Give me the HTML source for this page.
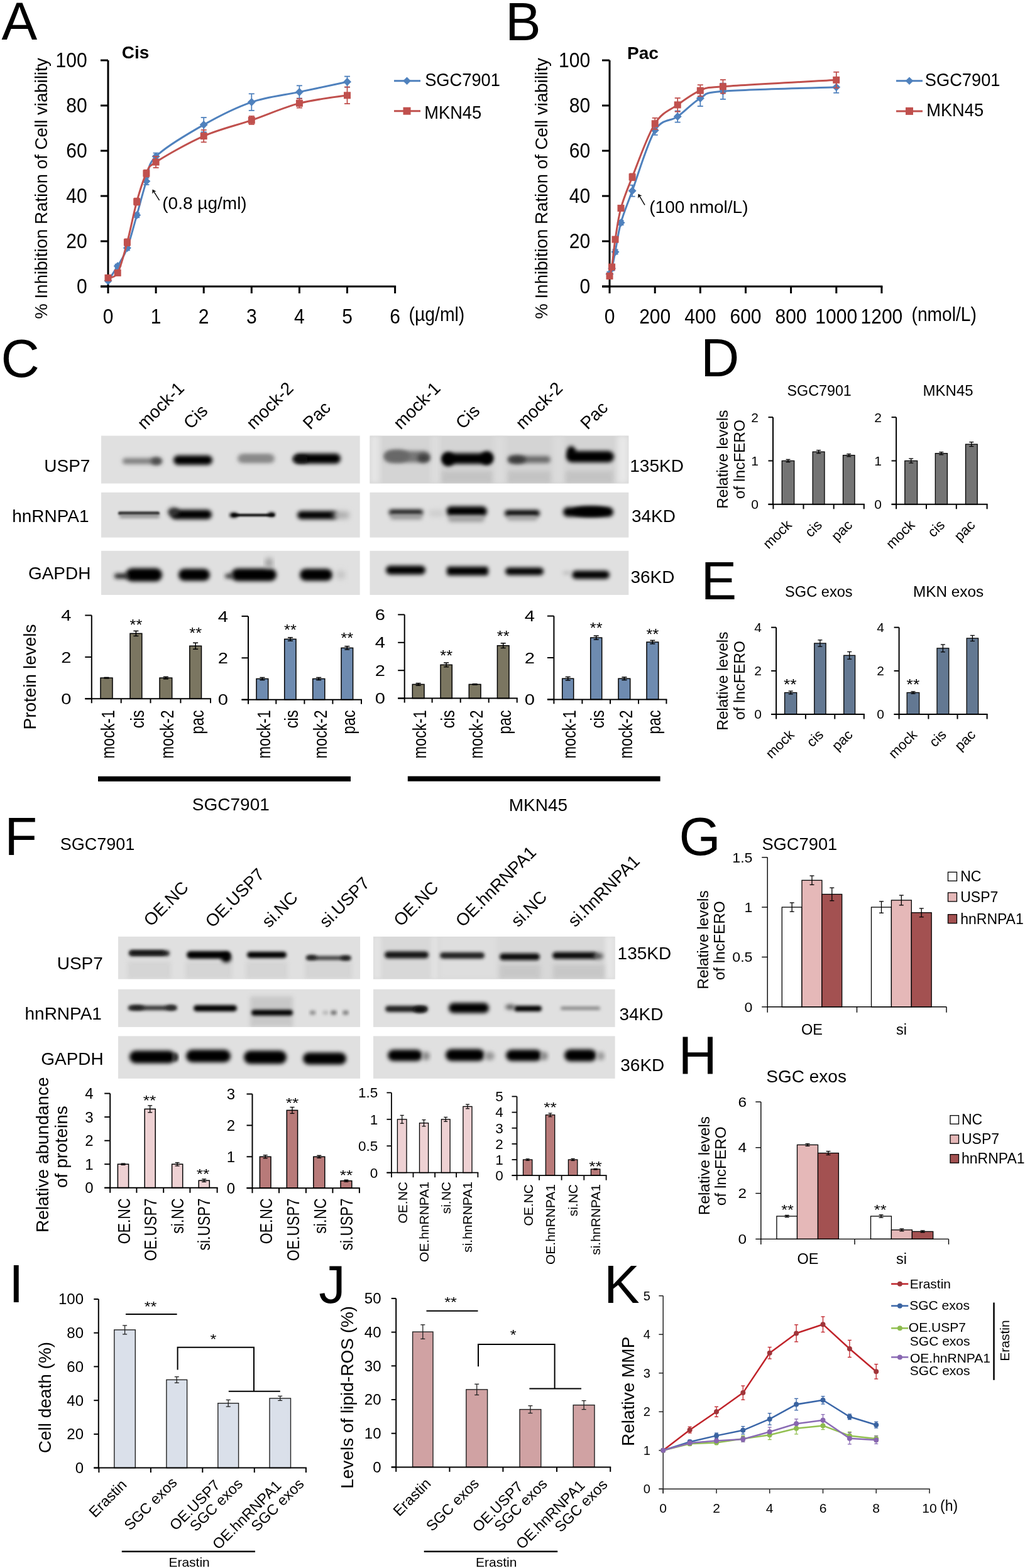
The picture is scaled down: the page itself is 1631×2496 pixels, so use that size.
<!DOCTYPE html>
<html><head><meta charset="utf-8"><title>Figure</title>
<style>
html,body{margin:0;padding:0;background:#fff;}
svg{display:block;}
text{font-family:"Liberation Sans",Arial,sans-serif;fill:#000;}
</style></head><body>
<svg width="1631" height="2496" viewBox="0 0 1631 2496">
<defs>
<filter id="b1" x="-20%" y="-60%" width="140%" height="220%"><feGaussianBlur stdDeviation="1.5"/></filter>
<filter id="b2" x="-20%" y="-80%" width="140%" height="260%"><feGaussianBlur stdDeviation="2.5"/></filter>
<filter id="b3" x="-30%" y="-100%" width="160%" height="300%"><feGaussianBlur stdDeviation="3.2"/></filter>
<filter id="b4" x="-30%" y="-100%" width="160%" height="300%"><feGaussianBlur stdDeviation="4.5"/></filter>
<filter id="b6" x="-30%" y="-100%" width="160%" height="300%"><feGaussianBlur stdDeviation="7"/></filter>
<clipPath id="cl1"><rect x="588.5" y="693.6" width="411.8" height="76"/></clipPath>
<clipPath id="cl2"><rect x="188" y="1490.9" width="385.1" height="67.7"/></clipPath>
<clipPath id="cl3"><rect x="188" y="1574.8" width="385.1" height="60.1"/></clipPath>
<clipPath id="cl4"><rect x="594" y="1490.9" width="384.6" height="67.7"/></clipPath>
</defs>
<rect width="1631" height="2496" fill="#fff"/>
<text x="2.6" y="62.5" font-size="85">A</text>
<text x="803.9" y="64.1" font-size="85">B</text>
<line x1="172.0" y1="96.0" x2="172.0" y2="456.0" stroke="#000" stroke-width="3"/>
<line x1="160.0" y1="456.0" x2="172.0" y2="456.0" stroke="#000" stroke-width="3"/>
<text transform="translate(138.7 466.6) scale(0.925 1)" font-size="32.5" text-anchor="end">0</text>
<line x1="160.0" y1="384.0" x2="172.0" y2="384.0" stroke="#000" stroke-width="3"/>
<text transform="translate(138.7 394.6) scale(0.925 1)" font-size="32.5" text-anchor="end">20</text>
<line x1="160.0" y1="312.0" x2="172.0" y2="312.0" stroke="#000" stroke-width="3"/>
<text transform="translate(138.7 322.6) scale(0.925 1)" font-size="32.5" text-anchor="end">40</text>
<line x1="160.0" y1="240.0" x2="172.0" y2="240.0" stroke="#000" stroke-width="3"/>
<text transform="translate(138.7 250.6) scale(0.925 1)" font-size="32.5" text-anchor="end">60</text>
<line x1="160.0" y1="168.0" x2="172.0" y2="168.0" stroke="#000" stroke-width="3"/>
<text transform="translate(138.7 178.6) scale(0.925 1)" font-size="32.5" text-anchor="end">80</text>
<line x1="160.0" y1="96.0" x2="172.0" y2="96.0" stroke="#000" stroke-width="3"/>
<text transform="translate(138.7 106.6) scale(0.925 1)" font-size="32.5" text-anchor="end">100</text>
<line x1="160.0" y1="456.0" x2="630.1" y2="456.0" stroke="#000" stroke-width="3"/>
<line x1="172.0" y1="456.0" x2="172.0" y2="467.0" stroke="#000" stroke-width="3"/>
<text transform="translate(172.0 515.3) scale(0.925 1)" font-size="32.5" text-anchor="middle">0</text>
<line x1="248.1" y1="456.0" x2="248.1" y2="467.0" stroke="#000" stroke-width="3"/>
<text transform="translate(248.1 515.3) scale(0.925 1)" font-size="32.5" text-anchor="middle">1</text>
<line x1="324.2" y1="456.0" x2="324.2" y2="467.0" stroke="#000" stroke-width="3"/>
<text transform="translate(324.2 515.3) scale(0.925 1)" font-size="32.5" text-anchor="middle">2</text>
<line x1="400.3" y1="456.0" x2="400.3" y2="467.0" stroke="#000" stroke-width="3"/>
<text transform="translate(400.3 515.3) scale(0.925 1)" font-size="32.5" text-anchor="middle">3</text>
<line x1="476.4" y1="456.0" x2="476.4" y2="467.0" stroke="#000" stroke-width="3"/>
<text transform="translate(476.4 515.3) scale(0.925 1)" font-size="32.5" text-anchor="middle">4</text>
<line x1="552.5" y1="456.0" x2="552.5" y2="467.0" stroke="#000" stroke-width="3"/>
<text transform="translate(552.5 515.3) scale(0.925 1)" font-size="32.5" text-anchor="middle">5</text>
<line x1="628.6" y1="456.0" x2="628.6" y2="467.0" stroke="#000" stroke-width="3"/>
<text transform="translate(628.6 515.3) scale(0.925 1)" font-size="32.5" text-anchor="middle">6</text>
<path d="M172.0,447.0 C174.5,443.1 182.1,432.3 187.2,423.6 C192.3,414.9 197.4,408.3 202.4,394.8 C207.5,381.3 212.6,360.3 217.7,342.6 C222.7,324.9 227.8,304.2 232.9,288.6 C238.0,273.0 232.9,264.0 248.1,249.0 C263.3,234.0 298.8,213.0 324.2,198.6 C349.6,184.2 374.9,171.3 400.3,162.6 C425.7,153.9 451.0,151.8 476.4,146.4 C501.8,141.0 539.8,132.9 552.5,130.2" stroke="#4F81BD" stroke-width="3" fill="none"/>
<line x1="172.0" y1="445.2" x2="172.0" y2="448.8" stroke="#4F81BD" stroke-width="1.8"/>
<line x1="167.5" y1="445.2" x2="176.5" y2="445.2" stroke="#4F81BD" stroke-width="1.8"/>
<line x1="167.5" y1="448.8" x2="176.5" y2="448.8" stroke="#4F81BD" stroke-width="1.8"/>
<line x1="187.2" y1="420.7" x2="187.2" y2="426.5" stroke="#4F81BD" stroke-width="1.8"/>
<line x1="182.7" y1="420.7" x2="191.7" y2="420.7" stroke="#4F81BD" stroke-width="1.8"/>
<line x1="182.7" y1="426.5" x2="191.7" y2="426.5" stroke="#4F81BD" stroke-width="1.8"/>
<line x1="202.4" y1="391.2" x2="202.4" y2="398.4" stroke="#4F81BD" stroke-width="1.8"/>
<line x1="197.9" y1="391.2" x2="206.9" y2="391.2" stroke="#4F81BD" stroke-width="1.8"/>
<line x1="197.9" y1="398.4" x2="206.9" y2="398.4" stroke="#4F81BD" stroke-width="1.8"/>
<line x1="217.7" y1="339.0" x2="217.7" y2="346.2" stroke="#4F81BD" stroke-width="1.8"/>
<line x1="213.2" y1="339.0" x2="222.2" y2="339.0" stroke="#4F81BD" stroke-width="1.8"/>
<line x1="213.2" y1="346.2" x2="222.2" y2="346.2" stroke="#4F81BD" stroke-width="1.8"/>
<line x1="232.9" y1="283.2" x2="232.9" y2="294.0" stroke="#4F81BD" stroke-width="1.8"/>
<line x1="228.4" y1="283.2" x2="237.4" y2="283.2" stroke="#4F81BD" stroke-width="1.8"/>
<line x1="228.4" y1="294.0" x2="237.4" y2="294.0" stroke="#4F81BD" stroke-width="1.8"/>
<line x1="248.1" y1="243.6" x2="248.1" y2="254.4" stroke="#4F81BD" stroke-width="1.8"/>
<line x1="243.6" y1="243.6" x2="252.6" y2="243.6" stroke="#4F81BD" stroke-width="1.8"/>
<line x1="243.6" y1="254.4" x2="252.6" y2="254.4" stroke="#4F81BD" stroke-width="1.8"/>
<line x1="324.2" y1="187.1" x2="324.2" y2="210.1" stroke="#4F81BD" stroke-width="1.8"/>
<line x1="319.7" y1="187.1" x2="328.7" y2="187.1" stroke="#4F81BD" stroke-width="1.8"/>
<line x1="319.7" y1="210.1" x2="328.7" y2="210.1" stroke="#4F81BD" stroke-width="1.8"/>
<line x1="400.3" y1="149.3" x2="400.3" y2="175.9" stroke="#4F81BD" stroke-width="1.8"/>
<line x1="395.8" y1="149.3" x2="404.8" y2="149.3" stroke="#4F81BD" stroke-width="1.8"/>
<line x1="395.8" y1="175.9" x2="404.8" y2="175.9" stroke="#4F81BD" stroke-width="1.8"/>
<line x1="476.4" y1="136.3" x2="476.4" y2="156.5" stroke="#4F81BD" stroke-width="1.8"/>
<line x1="471.9" y1="136.3" x2="480.9" y2="136.3" stroke="#4F81BD" stroke-width="1.8"/>
<line x1="471.9" y1="156.5" x2="480.9" y2="156.5" stroke="#4F81BD" stroke-width="1.8"/>
<line x1="552.5" y1="121.6" x2="552.5" y2="138.8" stroke="#4F81BD" stroke-width="1.8"/>
<line x1="548.0" y1="121.6" x2="557.0" y2="121.6" stroke="#4F81BD" stroke-width="1.8"/>
<line x1="548.0" y1="138.8" x2="557.0" y2="138.8" stroke="#4F81BD" stroke-width="1.8"/>
<path d="M172.0,440.5 L178.5,447.0 L172.0,453.5 L165.5,447.0Z" fill="#4F81BD"/>
<path d="M187.2,417.1 L193.7,423.6 L187.2,430.1 L180.7,423.6Z" fill="#4F81BD"/>
<path d="M202.4,388.3 L208.9,394.8 L202.4,401.3 L195.9,394.8Z" fill="#4F81BD"/>
<path d="M217.7,336.1 L224.2,342.6 L217.7,349.1 L211.2,342.6Z" fill="#4F81BD"/>
<path d="M232.9,282.1 L239.4,288.6 L232.9,295.1 L226.4,288.6Z" fill="#4F81BD"/>
<path d="M248.1,242.5 L254.6,249.0 L248.1,255.5 L241.6,249.0Z" fill="#4F81BD"/>
<path d="M324.2,192.1 L330.7,198.6 L324.2,205.1 L317.7,198.6Z" fill="#4F81BD"/>
<path d="M400.3,156.1 L406.8,162.6 L400.3,169.1 L393.8,162.6Z" fill="#4F81BD"/>
<path d="M476.4,139.9 L482.9,146.4 L476.4,152.9 L469.9,146.4Z" fill="#4F81BD"/>
<path d="M552.5,123.7 L559.0,130.2 L552.5,136.7 L546.0,130.2Z" fill="#4F81BD"/>
<path d="M172.0,442.3 C174.5,441.0 182.1,443.8 187.2,434.4 C192.3,425.0 197.4,404.7 202.4,385.8 C207.5,366.9 212.6,339.3 217.7,321.0 C222.7,302.7 227.8,286.5 232.9,276.0 C238.0,265.5 232.9,267.9 248.1,258.0 C263.3,248.1 298.8,227.7 324.2,216.6 C349.6,205.5 374.9,200.1 400.3,191.4 C425.7,182.7 451.0,171.0 476.4,164.4 C501.8,157.8 539.8,153.9 552.5,151.8" stroke="#C0504D" stroke-width="3" fill="none"/>
<line x1="172.0" y1="438.7" x2="172.0" y2="445.9" stroke="#C0504D" stroke-width="1.8"/>
<line x1="167.5" y1="438.7" x2="176.5" y2="438.7" stroke="#C0504D" stroke-width="1.8"/>
<line x1="167.5" y1="445.9" x2="176.5" y2="445.9" stroke="#C0504D" stroke-width="1.8"/>
<line x1="187.2" y1="430.8" x2="187.2" y2="438.0" stroke="#C0504D" stroke-width="1.8"/>
<line x1="182.7" y1="430.8" x2="191.7" y2="430.8" stroke="#C0504D" stroke-width="1.8"/>
<line x1="182.7" y1="438.0" x2="191.7" y2="438.0" stroke="#C0504D" stroke-width="1.8"/>
<line x1="202.4" y1="380.4" x2="202.4" y2="391.2" stroke="#C0504D" stroke-width="1.8"/>
<line x1="197.9" y1="380.4" x2="206.9" y2="380.4" stroke="#C0504D" stroke-width="1.8"/>
<line x1="197.9" y1="391.2" x2="206.9" y2="391.2" stroke="#C0504D" stroke-width="1.8"/>
<line x1="217.7" y1="315.6" x2="217.7" y2="326.4" stroke="#C0504D" stroke-width="1.8"/>
<line x1="213.2" y1="315.6" x2="222.2" y2="315.6" stroke="#C0504D" stroke-width="1.8"/>
<line x1="213.2" y1="326.4" x2="222.2" y2="326.4" stroke="#C0504D" stroke-width="1.8"/>
<line x1="232.9" y1="270.6" x2="232.9" y2="281.4" stroke="#C0504D" stroke-width="1.8"/>
<line x1="228.4" y1="270.6" x2="237.4" y2="270.6" stroke="#C0504D" stroke-width="1.8"/>
<line x1="228.4" y1="281.4" x2="237.4" y2="281.4" stroke="#C0504D" stroke-width="1.8"/>
<line x1="248.1" y1="249.0" x2="248.1" y2="267.0" stroke="#C0504D" stroke-width="1.8"/>
<line x1="243.6" y1="249.0" x2="252.6" y2="249.0" stroke="#C0504D" stroke-width="1.8"/>
<line x1="243.6" y1="267.0" x2="252.6" y2="267.0" stroke="#C0504D" stroke-width="1.8"/>
<line x1="324.2" y1="206.9" x2="324.2" y2="226.3" stroke="#C0504D" stroke-width="1.8"/>
<line x1="319.7" y1="206.9" x2="328.7" y2="206.9" stroke="#C0504D" stroke-width="1.8"/>
<line x1="319.7" y1="226.3" x2="328.7" y2="226.3" stroke="#C0504D" stroke-width="1.8"/>
<line x1="400.3" y1="184.9" x2="400.3" y2="197.9" stroke="#C0504D" stroke-width="1.8"/>
<line x1="395.8" y1="184.9" x2="404.8" y2="184.9" stroke="#C0504D" stroke-width="1.8"/>
<line x1="395.8" y1="197.9" x2="404.8" y2="197.9" stroke="#C0504D" stroke-width="1.8"/>
<line x1="476.4" y1="157.2" x2="476.4" y2="171.6" stroke="#C0504D" stroke-width="1.8"/>
<line x1="471.9" y1="157.2" x2="480.9" y2="157.2" stroke="#C0504D" stroke-width="1.8"/>
<line x1="471.9" y1="171.6" x2="480.9" y2="171.6" stroke="#C0504D" stroke-width="1.8"/>
<line x1="552.5" y1="138.5" x2="552.5" y2="165.1" stroke="#C0504D" stroke-width="1.8"/>
<line x1="548.0" y1="138.5" x2="557.0" y2="138.5" stroke="#C0504D" stroke-width="1.8"/>
<line x1="548.0" y1="165.1" x2="557.0" y2="165.1" stroke="#C0504D" stroke-width="1.8"/>
<rect x="166.5" y="436.8" width="11.0" height="11.0" fill="#C0504D"/>
<rect x="181.7" y="428.9" width="11.0" height="11.0" fill="#C0504D"/>
<rect x="196.9" y="380.3" width="11.0" height="11.0" fill="#C0504D"/>
<rect x="212.2" y="315.5" width="11.0" height="11.0" fill="#C0504D"/>
<rect x="227.4" y="270.5" width="11.0" height="11.0" fill="#C0504D"/>
<rect x="242.6" y="252.5" width="11.0" height="11.0" fill="#C0504D"/>
<rect x="318.7" y="211.1" width="11.0" height="11.0" fill="#C0504D"/>
<rect x="394.8" y="185.9" width="11.0" height="11.0" fill="#C0504D"/>
<rect x="470.9" y="158.9" width="11.0" height="11.0" fill="#C0504D"/>
<rect x="547.0" y="146.3" width="11.0" height="11.0" fill="#C0504D"/>
<text transform="translate(650.5 510.5) scale(0.93 1)" font-size="30.5">(µg/ml)</text>
<text x="74.6" y="300.0" font-size="27.7" text-anchor="middle" transform="rotate(-90 74.6 300.0)">% Inhibition Ration of Cell viability</text>
<text x="193.8" y="92.8" font-size="28" font-weight="bold">Cis</text>
<text x="258.3" y="333.4" font-size="28">(0.8 µg/ml)</text>
<line x1="253.6" y1="318.8" x2="243.8" y2="303.3" stroke="#000" stroke-width="1.4"/>
<path d="M242.6,301.4 L248.7,304.8 L244.9,305.0 L242.3,308.6 Z" fill="#000"/>
<line x1="627.0" y1="128.8" x2="669.0" y2="128.8" stroke="#4F81BD" stroke-width="3"/>
<path d="M647.5,122.5 L653.8,128.8 L647.5,135.1 L641.2,128.8Z" fill="#4F81BD"/>
<text transform="translate(676.2 137.4) scale(0.94 1)" font-size="29">SGC7901</text>
<line x1="627.0" y1="176.7" x2="669.0" y2="176.7" stroke="#C0504D" stroke-width="3"/>
<rect x="641.5" y="170.7" width="12.0" height="12.0" fill="#C0504D"/>
<text transform="translate(675.3 188.6) scale(0.94 1)" font-size="29">MKN45</text>
<line x1="970.0" y1="96.0" x2="970.0" y2="456.0" stroke="#000" stroke-width="3"/>
<line x1="958.0" y1="456.0" x2="970.0" y2="456.0" stroke="#000" stroke-width="3"/>
<text transform="translate(939.1 466.6) scale(0.925 1)" font-size="32.5" text-anchor="end">0</text>
<line x1="958.0" y1="384.0" x2="970.0" y2="384.0" stroke="#000" stroke-width="3"/>
<text transform="translate(939.1 394.6) scale(0.925 1)" font-size="32.5" text-anchor="end">20</text>
<line x1="958.0" y1="312.0" x2="970.0" y2="312.0" stroke="#000" stroke-width="3"/>
<text transform="translate(939.1 322.6) scale(0.925 1)" font-size="32.5" text-anchor="end">40</text>
<line x1="958.0" y1="240.0" x2="970.0" y2="240.0" stroke="#000" stroke-width="3"/>
<text transform="translate(939.1 250.6) scale(0.925 1)" font-size="32.5" text-anchor="end">60</text>
<line x1="958.0" y1="168.0" x2="970.0" y2="168.0" stroke="#000" stroke-width="3"/>
<text transform="translate(939.1 178.6) scale(0.925 1)" font-size="32.5" text-anchor="end">80</text>
<line x1="958.0" y1="96.0" x2="970.0" y2="96.0" stroke="#000" stroke-width="3"/>
<text transform="translate(939.1 106.6) scale(0.925 1)" font-size="32.5" text-anchor="end">100</text>
<line x1="958.0" y1="456.0" x2="1404.4" y2="456.0" stroke="#000" stroke-width="3"/>
<line x1="970.0" y1="456.0" x2="970.0" y2="467.0" stroke="#000" stroke-width="3"/>
<text transform="translate(970.0 515.3) scale(0.925 1)" font-size="32.5" text-anchor="middle">0</text>
<line x1="1042.2" y1="456.0" x2="1042.2" y2="467.0" stroke="#000" stroke-width="3"/>
<text transform="translate(1042.2 515.3) scale(0.925 1)" font-size="32.5" text-anchor="middle">200</text>
<line x1="1114.3" y1="456.0" x2="1114.3" y2="467.0" stroke="#000" stroke-width="3"/>
<text transform="translate(1114.3 515.3) scale(0.925 1)" font-size="32.5" text-anchor="middle">400</text>
<line x1="1186.5" y1="456.0" x2="1186.5" y2="467.0" stroke="#000" stroke-width="3"/>
<text transform="translate(1186.5 515.3) scale(0.925 1)" font-size="32.5" text-anchor="middle">600</text>
<line x1="1258.6" y1="456.0" x2="1258.6" y2="467.0" stroke="#000" stroke-width="3"/>
<text transform="translate(1258.6 515.3) scale(0.925 1)" font-size="32.5" text-anchor="middle">800</text>
<line x1="1330.8" y1="456.0" x2="1330.8" y2="467.0" stroke="#000" stroke-width="3"/>
<text transform="translate(1330.8 515.3) scale(0.925 1)" font-size="32.5" text-anchor="middle">1000</text>
<line x1="1402.9" y1="456.0" x2="1402.9" y2="467.0" stroke="#000" stroke-width="3"/>
<text transform="translate(1402.9 515.3) scale(0.925 1)" font-size="32.5" text-anchor="middle">1200</text>
<path d="M970.0,436.2 C970.6,434.7 972.1,433.1 973.6,427.2 C975.1,421.3 976.6,413.0 979.0,400.9 C981.4,388.8 983.5,370.7 988.0,354.5 C992.5,338.3 997.1,328.2 1006.1,303.7 C1015.1,279.2 1030.1,227.3 1042.2,207.6 C1054.2,187.9 1066.2,194.2 1078.2,185.6 C1090.2,177.1 1102.3,163.2 1114.3,156.5 C1126.3,149.8 1114.3,148.3 1150.4,145.3 C1186.5,142.4 1300.7,139.9 1330.8,138.8" stroke="#4F81BD" stroke-width="3" fill="none"/>
<line x1="970.0" y1="432.6" x2="970.0" y2="439.8" stroke="#4F81BD" stroke-width="1.8"/>
<line x1="965.5" y1="432.6" x2="974.5" y2="432.6" stroke="#4F81BD" stroke-width="1.8"/>
<line x1="965.5" y1="439.8" x2="974.5" y2="439.8" stroke="#4F81BD" stroke-width="1.8"/>
<line x1="973.6" y1="423.6" x2="973.6" y2="430.8" stroke="#4F81BD" stroke-width="1.8"/>
<line x1="969.1" y1="423.6" x2="978.1" y2="423.6" stroke="#4F81BD" stroke-width="1.8"/>
<line x1="969.1" y1="430.8" x2="978.1" y2="430.8" stroke="#4F81BD" stroke-width="1.8"/>
<line x1="979.0" y1="397.3" x2="979.0" y2="404.5" stroke="#4F81BD" stroke-width="1.8"/>
<line x1="974.5" y1="397.3" x2="983.5" y2="397.3" stroke="#4F81BD" stroke-width="1.8"/>
<line x1="974.5" y1="404.5" x2="983.5" y2="404.5" stroke="#4F81BD" stroke-width="1.8"/>
<line x1="988.0" y1="350.9" x2="988.0" y2="358.1" stroke="#4F81BD" stroke-width="1.8"/>
<line x1="983.5" y1="350.9" x2="992.5" y2="350.9" stroke="#4F81BD" stroke-width="1.8"/>
<line x1="983.5" y1="358.1" x2="992.5" y2="358.1" stroke="#4F81BD" stroke-width="1.8"/>
<line x1="1006.1" y1="294.7" x2="1006.1" y2="312.7" stroke="#4F81BD" stroke-width="1.8"/>
<line x1="1001.6" y1="294.7" x2="1010.6" y2="294.7" stroke="#4F81BD" stroke-width="1.8"/>
<line x1="1001.6" y1="312.7" x2="1010.6" y2="312.7" stroke="#4F81BD" stroke-width="1.8"/>
<line x1="1042.2" y1="200.4" x2="1042.2" y2="214.8" stroke="#4F81BD" stroke-width="1.8"/>
<line x1="1037.7" y1="200.4" x2="1046.7" y2="200.4" stroke="#4F81BD" stroke-width="1.8"/>
<line x1="1037.7" y1="214.8" x2="1046.7" y2="214.8" stroke="#4F81BD" stroke-width="1.8"/>
<line x1="1078.2" y1="176.6" x2="1078.2" y2="194.6" stroke="#4F81BD" stroke-width="1.8"/>
<line x1="1073.7" y1="176.6" x2="1082.7" y2="176.6" stroke="#4F81BD" stroke-width="1.8"/>
<line x1="1073.7" y1="194.6" x2="1082.7" y2="194.6" stroke="#4F81BD" stroke-width="1.8"/>
<line x1="1114.3" y1="143.9" x2="1114.3" y2="169.1" stroke="#4F81BD" stroke-width="1.8"/>
<line x1="1109.8" y1="143.9" x2="1118.8" y2="143.9" stroke="#4F81BD" stroke-width="1.8"/>
<line x1="1109.8" y1="169.1" x2="1118.8" y2="169.1" stroke="#4F81BD" stroke-width="1.8"/>
<line x1="1150.4" y1="132.7" x2="1150.4" y2="157.9" stroke="#4F81BD" stroke-width="1.8"/>
<line x1="1145.9" y1="132.7" x2="1154.9" y2="132.7" stroke="#4F81BD" stroke-width="1.8"/>
<line x1="1145.9" y1="157.9" x2="1154.9" y2="157.9" stroke="#4F81BD" stroke-width="1.8"/>
<line x1="1330.8" y1="129.8" x2="1330.8" y2="147.8" stroke="#4F81BD" stroke-width="1.8"/>
<line x1="1326.2" y1="129.8" x2="1335.2" y2="129.8" stroke="#4F81BD" stroke-width="1.8"/>
<line x1="1326.2" y1="147.8" x2="1335.2" y2="147.8" stroke="#4F81BD" stroke-width="1.8"/>
<path d="M970.0,429.7 L976.5,436.2 L970.0,442.7 L963.5,436.2Z" fill="#4F81BD"/>
<path d="M973.6,420.7 L980.1,427.2 L973.6,433.7 L967.1,427.2Z" fill="#4F81BD"/>
<path d="M979.0,394.4 L985.5,400.9 L979.0,407.4 L972.5,400.9Z" fill="#4F81BD"/>
<path d="M988.0,348.0 L994.5,354.5 L988.0,361.0 L981.5,354.5Z" fill="#4F81BD"/>
<path d="M1006.1,297.2 L1012.6,303.7 L1006.1,310.2 L999.6,303.7Z" fill="#4F81BD"/>
<path d="M1042.2,201.1 L1048.7,207.6 L1042.2,214.1 L1035.7,207.6Z" fill="#4F81BD"/>
<path d="M1078.2,179.1 L1084.7,185.6 L1078.2,192.1 L1071.7,185.6Z" fill="#4F81BD"/>
<path d="M1114.3,150.0 L1120.8,156.5 L1114.3,163.0 L1107.8,156.5Z" fill="#4F81BD"/>
<path d="M1150.4,138.8 L1156.9,145.3 L1150.4,151.8 L1143.9,145.3Z" fill="#4F81BD"/>
<path d="M1330.8,132.3 L1337.2,138.8 L1330.8,145.3 L1324.2,138.8Z" fill="#4F81BD"/>
<path d="M970.0,439.4 C970.6,437.0 972.1,434.8 973.6,425.0 C975.1,415.3 976.6,396.7 979.0,381.1 C981.4,365.5 983.5,348.0 988.0,331.4 C992.5,314.9 997.1,304.2 1006.1,281.8 C1015.1,259.3 1030.1,215.9 1042.2,196.8 C1054.2,177.7 1066.2,175.7 1078.2,166.9 C1090.2,158.2 1102.3,149.1 1114.3,144.2 C1126.3,139.4 1114.3,140.6 1150.4,137.8 C1186.5,134.9 1300.7,129.1 1330.8,127.3" stroke="#C0504D" stroke-width="3" fill="none"/>
<line x1="970.0" y1="435.8" x2="970.0" y2="443.0" stroke="#C0504D" stroke-width="1.8"/>
<line x1="965.5" y1="435.8" x2="974.5" y2="435.8" stroke="#C0504D" stroke-width="1.8"/>
<line x1="965.5" y1="443.0" x2="974.5" y2="443.0" stroke="#C0504D" stroke-width="1.8"/>
<line x1="973.6" y1="421.4" x2="973.6" y2="428.6" stroke="#C0504D" stroke-width="1.8"/>
<line x1="969.1" y1="421.4" x2="978.1" y2="421.4" stroke="#C0504D" stroke-width="1.8"/>
<line x1="969.1" y1="428.6" x2="978.1" y2="428.6" stroke="#C0504D" stroke-width="1.8"/>
<line x1="979.0" y1="377.5" x2="979.0" y2="384.7" stroke="#C0504D" stroke-width="1.8"/>
<line x1="974.5" y1="377.5" x2="983.5" y2="377.5" stroke="#C0504D" stroke-width="1.8"/>
<line x1="974.5" y1="384.7" x2="983.5" y2="384.7" stroke="#C0504D" stroke-width="1.8"/>
<line x1="988.0" y1="327.8" x2="988.0" y2="335.0" stroke="#C0504D" stroke-width="1.8"/>
<line x1="983.5" y1="327.8" x2="992.5" y2="327.8" stroke="#C0504D" stroke-width="1.8"/>
<line x1="983.5" y1="335.0" x2="992.5" y2="335.0" stroke="#C0504D" stroke-width="1.8"/>
<line x1="1006.1" y1="276.4" x2="1006.1" y2="287.2" stroke="#C0504D" stroke-width="1.8"/>
<line x1="1001.6" y1="276.4" x2="1010.6" y2="276.4" stroke="#C0504D" stroke-width="1.8"/>
<line x1="1001.6" y1="287.2" x2="1010.6" y2="287.2" stroke="#C0504D" stroke-width="1.8"/>
<line x1="1042.2" y1="187.8" x2="1042.2" y2="205.8" stroke="#C0504D" stroke-width="1.8"/>
<line x1="1037.7" y1="187.8" x2="1046.7" y2="187.8" stroke="#C0504D" stroke-width="1.8"/>
<line x1="1037.7" y1="205.8" x2="1046.7" y2="205.8" stroke="#C0504D" stroke-width="1.8"/>
<line x1="1078.2" y1="156.1" x2="1078.2" y2="177.7" stroke="#C0504D" stroke-width="1.8"/>
<line x1="1073.7" y1="156.1" x2="1082.7" y2="156.1" stroke="#C0504D" stroke-width="1.8"/>
<line x1="1073.7" y1="177.7" x2="1082.7" y2="177.7" stroke="#C0504D" stroke-width="1.8"/>
<line x1="1114.3" y1="135.2" x2="1114.3" y2="153.2" stroke="#C0504D" stroke-width="1.8"/>
<line x1="1109.8" y1="135.2" x2="1118.8" y2="135.2" stroke="#C0504D" stroke-width="1.8"/>
<line x1="1109.8" y1="153.2" x2="1118.8" y2="153.2" stroke="#C0504D" stroke-width="1.8"/>
<line x1="1150.4" y1="127.0" x2="1150.4" y2="148.6" stroke="#C0504D" stroke-width="1.8"/>
<line x1="1145.9" y1="127.0" x2="1154.9" y2="127.0" stroke="#C0504D" stroke-width="1.8"/>
<line x1="1145.9" y1="148.6" x2="1154.9" y2="148.6" stroke="#C0504D" stroke-width="1.8"/>
<line x1="1330.8" y1="114.7" x2="1330.8" y2="139.9" stroke="#C0504D" stroke-width="1.8"/>
<line x1="1326.2" y1="114.7" x2="1335.2" y2="114.7" stroke="#C0504D" stroke-width="1.8"/>
<line x1="1326.2" y1="139.9" x2="1335.2" y2="139.9" stroke="#C0504D" stroke-width="1.8"/>
<rect x="964.5" y="433.9" width="11.0" height="11.0" fill="#C0504D"/>
<rect x="968.1" y="419.5" width="11.0" height="11.0" fill="#C0504D"/>
<rect x="973.5" y="375.6" width="11.0" height="11.0" fill="#C0504D"/>
<rect x="982.5" y="325.9" width="11.0" height="11.0" fill="#C0504D"/>
<rect x="1000.6" y="276.3" width="11.0" height="11.0" fill="#C0504D"/>
<rect x="1036.7" y="191.3" width="11.0" height="11.0" fill="#C0504D"/>
<rect x="1072.7" y="161.4" width="11.0" height="11.0" fill="#C0504D"/>
<rect x="1108.8" y="138.7" width="11.0" height="11.0" fill="#C0504D"/>
<rect x="1144.9" y="132.3" width="11.0" height="11.0" fill="#C0504D"/>
<rect x="1325.2" y="121.8" width="11.0" height="11.0" fill="#C0504D"/>
<text transform="translate(1450.5 511.0) scale(0.91 1)" font-size="31">(nmol/L)</text>
<text x="871.0" y="300.0" font-size="27.7" text-anchor="middle" transform="rotate(-90 871.0 300.0)">% Inhibition Ration of Cell viability</text>
<text x="998.0" y="94.0" font-size="28" font-weight="bold">Pac</text>
<text x="1033.3" y="339.0" font-size="28">(100 nmol/L)</text>
<line x1="1026.0" y1="326.3" x2="1016.7" y2="310.6" stroke="#000" stroke-width="1.4"/>
<path d="M1015.5,308.5 L1021.6,311.9 L1017.8,312.1 L1015.2,315.7 Z" fill="#000"/>
<line x1="1426.0" y1="128.7" x2="1468.0" y2="128.7" stroke="#4F81BD" stroke-width="3"/>
<path d="M1447.0,122.4 L1453.3,128.7 L1447.0,135.0 L1440.7,128.7Z" fill="#4F81BD"/>
<text transform="translate(1471.8 137.2) scale(0.94 1)" font-size="29">SGC7901</text>
<line x1="1426.0" y1="176.9" x2="1468.0" y2="176.9" stroke="#C0504D" stroke-width="3"/>
<rect x="1441.0" y="170.9" width="12.0" height="12.0" fill="#C0504D"/>
<text transform="translate(1474.2 185.4) scale(0.94 1)" font-size="29">MKN45</text>
<text x="1.5" y="600.0" font-size="85">C</text>
<rect x="161.0" y="693.6" width="411.7" height="76.0" fill="#E0E0E0"/>
<rect x="588.5" y="693.6" width="411.8" height="76.0" fill="#E0E0E0"/>
<rect x="161.0" y="783.9" width="411.7" height="71.7" fill="#E0E0E0"/>
<rect x="588.5" y="783.9" width="411.8" height="71.7" fill="#E0E0E0"/>
<rect x="161.0" y="876.8" width="411.7" height="70.2" fill="#E0E0E0"/>
<rect x="588.5" y="876.8" width="411.8" height="70.2" fill="#E0E0E0"/>
<g clip-path="url(#cl1)">
<rect x="588.5" y="693.6" width="411.8" height="76" fill="#D4D4D4"/>
<rect x="588.5" y="693.6" width="15.5" height="76" fill="#E6E6E6" filter="url(#b4)"/>
<rect x="686" y="693.6" width="13" height="76" fill="#DEDEDE" filter="url(#b4)"/>
<rect x="786" y="693.6" width="18" height="76" fill="#DCDCDC" filter="url(#b4)"/>
<rect x="880" y="693.6" width="17" height="76" fill="#DBDBDB" filter="url(#b4)"/>
<rect x="982" y="693.6" width="18.299999999999955" height="76" fill="#E8E8E8" filter="url(#b4)"/>
<rect x="703" y="750" width="80" height="19.6" fill="#BDBDBD" opacity="0.7" filter="url(#b3)"/>
<rect x="808" y="750" width="68" height="19.6" fill="#BDBDBD" opacity="0.7" filter="url(#b3)"/>
<rect x="900" y="750" width="75" height="19.6" fill="#BDBDBD" opacity="0.7" filter="url(#b3)"/>
</g>
<rect x="195.0" y="729.5" width="61.0" height="9.0" rx="4.5" fill="#7a7a7a" filter="url(#b3)"/>
<ellipse cx="249.0" cy="734.0" rx="9.0" ry="6.0" fill="#4a4a4a" filter="url(#b3)"/>
<rect x="276.0" y="725.0" width="62.0" height="15.0" rx="7.5" fill="#000" filter="url(#b3)"/>
<rect x="378.0" y="723.0" width="59.0" height="14.0" rx="7.0" fill="#8c8c8c" filter="url(#b3)"/>
<rect x="384.0" y="725.0" width="47.0" height="8.0" rx="4.0" fill="#888" filter="url(#b3)"/>
<rect x="468.0" y="722.0" width="74.0" height="16.0" rx="8.0" fill="#000" filter="url(#b3)"/>
<rect x="466.0" y="726.0" width="24.0" height="10.0" rx="5.0" fill="#111" filter="url(#b3)"/>
<rect x="188.0" y="814.5" width="66.0" height="5.0" rx="2.5" fill="#1a1a1a" filter="url(#b1)"/>
<rect x="190.0" y="819.5" width="64.0" height="5.0" rx="2.5" fill="#8a8a8a" filter="url(#b2)"/>
<rect x="272.0" y="811.5" width="65.0" height="15.0" rx="7.5" fill="#000" filter="url(#b3)"/>
<ellipse cx="276.0" cy="815.0" rx="9.0" ry="7.0" fill="#333" filter="url(#b3)"/>
<rect x="369.0" y="818.0" width="68.0" height="4.0" rx="2.0" fill="#000" filter="url(#b1)"/>
<ellipse cx="372.0" cy="820.0" rx="7.0" ry="4.0" fill="#000" filter="url(#b2)"/>
<ellipse cx="432.0" cy="819.0" rx="6.0" ry="3.5" fill="#000" filter="url(#b2)"/>
<rect x="473.0" y="813.5" width="64.0" height="13.0" rx="6.5" fill="#000" filter="url(#b3)"/>
<rect x="530.0" y="814.5" width="26.0" height="11.0" rx="5.5" fill="#aaa" filter="url(#b4)"/>
<rect x="200.0" y="904.5" width="58.0" height="21.0" rx="10.5" fill="#000" filter="url(#b3)"/>
<rect x="182.0" y="913.0" width="23.0" height="8.0" rx="4.0" fill="#222" filter="url(#b3)"/>
<rect x="284.0" y="905.5" width="50.0" height="19.0" rx="9.5" fill="#000" filter="url(#b3)"/>
<rect x="368.0" y="905.0" width="72.0" height="20.0" rx="10.0" fill="#000" filter="url(#b3)"/>
<rect x="358.0" y="913.5" width="14.0" height="7.0" rx="3.5" fill="#333" filter="url(#b3)"/>
<ellipse cx="428.0" cy="896.0" rx="6.0" ry="8.0" fill="#999" filter="url(#b4)"/>
<rect x="477.0" y="905.5" width="52.0" height="19.0" rx="9.5" fill="#000" filter="url(#b3)"/>
<ellipse cx="542.0" cy="915.0" rx="8.0" ry="7.0" fill="#c4c4c4" filter="url(#b4)"/>
<rect x="611.0" y="718.0" width="73.0" height="18.0" rx="9.0" fill="#777" filter="url(#b3)"/>
<ellipse cx="632.0" cy="726.0" rx="20.0" ry="10.0" fill="#686868" filter="url(#b3)"/>
<ellipse cx="674.0" cy="729.0" rx="10.0" ry="7.0" fill="#404040" filter="url(#b3)"/>
<rect x="704.0" y="721.5" width="79.0" height="17.0" rx="8.5" fill="#000" filter="url(#b3)"/>
<ellipse cx="713.0" cy="731.0" rx="10.0" ry="11.0" fill="#000" filter="url(#b3)"/>
<ellipse cx="775.0" cy="729.0" rx="10.0" ry="10.5" fill="#000" filter="url(#b3)"/>
<rect x="808.0" y="726.0" width="68.0" height="11.0" rx="5.5" fill="#6a6a6a" filter="url(#b3)"/>
<ellipse cx="823.0" cy="731.5" rx="14.0" ry="6.5" fill="#3a3a3a" filter="url(#b3)"/>
<rect x="901.0" y="718.0" width="76.0" height="18.0" rx="9.0" fill="#000" filter="url(#b3)"/>
<ellipse cx="909.0" cy="719.0" rx="7.0" ry="9.0" fill="#000" filter="url(#b3)"/>
<rect x="619.0" y="811.5" width="54.0" height="8.0" rx="4.0" fill="#000" filter="url(#b3)"/>
<rect x="621.0" y="819.0" width="51.0" height="8.0" rx="4.0" fill="#999" filter="url(#b3)"/>
<rect x="710.0" y="806.0" width="65.0" height="16.0" rx="8.0" fill="#000" filter="url(#b3)"/>
<rect x="713.0" y="821.0" width="58.0" height="10.0" rx="5.0" fill="#a0a0a0" filter="url(#b3)"/>
<rect x="682.0" y="812.0" width="26.0" height="10.0" rx="5.0" fill="#cccccc" filter="url(#b4)"/>
<rect x="803.0" y="812.0" width="56.0" height="10.0" rx="5.0" fill="#000" filter="url(#b3)"/>
<rect x="807.0" y="821.5" width="48.0" height="7.0" rx="3.5" fill="#a0a0a0" filter="url(#b3)"/>
<rect x="896.0" y="807.5" width="80.0" height="15.0" rx="7.5" fill="#000" filter="url(#b3)"/>
<ellipse cx="940.0" cy="814.0" rx="30.0" ry="8.0" fill="#000" filter="url(#b3)"/>
<rect x="614.0" y="900.5" width="63.0" height="14.0" rx="7.0" fill="#000" filter="url(#b3)"/>
<rect x="711.0" y="902.0" width="66.0" height="14.0" rx="4.0" fill="#000" filter="url(#b3)"/>
<rect x="804.0" y="903.5" width="61.0" height="12.0" rx="6.0" fill="#000" filter="url(#b3)"/>
<rect x="910.0" y="908.5" width="60.0" height="13.0" rx="6.5" fill="#000" filter="url(#b3)"/>
<ellipse cx="902.0" cy="912.0" rx="7.0" ry="3.0" fill="#bbb" filter="url(#b3)"/>
<text x="70.3" y="751.0" font-size="28">USP7</text>
<text x="19.2" y="830.5" font-size="28">hnRNPA1</text>
<text x="44.9" y="922.0" font-size="28">GAPDH</text>
<text x="1002.3" y="750.8" font-size="28">135KD</text>
<text x="1004.9" y="830.5" font-size="28">34KD</text>
<text x="1003.4" y="928.4" font-size="28">36KD</text>
<text x="229.9" y="684.7" font-size="28" transform="rotate(-45 229.9 684.7)">mock-1</text>
<text x="303.5" y="684.5" font-size="28" transform="rotate(-45 303.5 684.5)">Cis</text>
<text x="403.5" y="684.7" font-size="28" transform="rotate(-45 403.5 684.7)">mock-2</text>
<text x="493.6" y="684.9" font-size="28" transform="rotate(-45 493.6 684.9)">Pac</text>
<text x="637.5" y="684.7" font-size="28" transform="rotate(-45 637.5 684.7)">mock-1</text>
<text x="736.5" y="684.5" font-size="28" transform="rotate(-45 736.5 684.5)">Cis</text>
<text x="832.0" y="684.7" font-size="28" transform="rotate(-45 832.0 684.7)">mock-2</text>
<text x="934.9" y="684.9" font-size="28" transform="rotate(-45 934.9 684.9)">Pac</text>
<rect x="160.0" y="1079.1" width="19.0" height="33.2" fill="#7B7661" stroke="#000" stroke-width="1.5"/>
<rect x="207.0" y="1008.4" width="18.8" height="103.9" fill="#7B7661" stroke="#000" stroke-width="1.5"/>
<rect x="254.0" y="1079.1" width="19.7" height="33.2" fill="#7B7661" stroke="#000" stroke-width="1.5"/>
<rect x="301.8" y="1028.3" width="18.7" height="84.0" fill="#7B7661" stroke="#000" stroke-width="1.5"/>
<line x1="169.5" y1="1078.4" x2="169.5" y2="1079.8" stroke="#000" stroke-width="1.5"/>
<line x1="165.5" y1="1078.4" x2="173.5" y2="1078.4" stroke="#000" stroke-width="1.5"/>
<line x1="165.5" y1="1079.8" x2="173.5" y2="1079.8" stroke="#000" stroke-width="1.5"/>
<line x1="216.4" y1="1004.4" x2="216.4" y2="1012.4" stroke="#000" stroke-width="1.5"/>
<line x1="212.4" y1="1004.4" x2="220.4" y2="1004.4" stroke="#000" stroke-width="1.5"/>
<line x1="212.4" y1="1012.4" x2="220.4" y2="1012.4" stroke="#000" stroke-width="1.5"/>
<line x1="263.9" y1="1077.4" x2="263.9" y2="1080.8" stroke="#000" stroke-width="1.5"/>
<line x1="259.9" y1="1077.4" x2="267.9" y2="1077.4" stroke="#000" stroke-width="1.5"/>
<line x1="259.9" y1="1080.8" x2="267.9" y2="1080.8" stroke="#000" stroke-width="1.5"/>
<line x1="311.1" y1="1023.3" x2="311.1" y2="1033.3" stroke="#000" stroke-width="1.5"/>
<line x1="307.1" y1="1023.3" x2="315.1" y2="1023.3" stroke="#000" stroke-width="1.5"/>
<line x1="307.1" y1="1033.3" x2="315.1" y2="1033.3" stroke="#000" stroke-width="1.5"/>
<line x1="145.8" y1="979.5" x2="145.8" y2="1112.3" stroke="#000" stroke-width="2"/>
<line x1="135.3" y1="1112.3" x2="145.8" y2="1112.3" stroke="#000" stroke-width="2"/>
<text transform="translate(113.5 1120.9) scale(1.19 1)" font-size="24.5" text-anchor="end">0</text>
<line x1="135.3" y1="1045.9" x2="145.8" y2="1045.9" stroke="#000" stroke-width="2"/>
<text transform="translate(113.5 1054.5) scale(1.19 1)" font-size="24.5" text-anchor="end">2</text>
<line x1="135.3" y1="979.5" x2="145.8" y2="979.5" stroke="#000" stroke-width="2"/>
<text transform="translate(113.5 988.1) scale(1.19 1)" font-size="24.5" text-anchor="end">4</text>
<line x1="135.3" y1="1112.3" x2="336.0" y2="1112.3" stroke="#000" stroke-width="2"/>
<line x1="145.8" y1="1112.3" x2="145.8" y2="1119.3" stroke="#000" stroke-width="2"/>
<line x1="192.7" y1="1112.3" x2="192.7" y2="1119.3" stroke="#000" stroke-width="2"/>
<line x1="239.5" y1="1112.3" x2="239.5" y2="1119.3" stroke="#000" stroke-width="2"/>
<line x1="287.4" y1="1112.3" x2="287.4" y2="1119.3" stroke="#000" stroke-width="2"/>
<line x1="335.0" y1="1112.3" x2="335.0" y2="1119.3" stroke="#000" stroke-width="2"/>
<text transform="translate(216.4 1002.9) scale(1.1 1)" font-size="23" text-anchor="middle">**</text>
<text transform="translate(311.2 1015.9) scale(1.1 1)" font-size="23" text-anchor="middle">**</text>
<rect x="408.0" y="1080.5" width="18.7" height="33.2" fill="#6E8BB0" stroke="#000" stroke-width="1.5"/>
<rect x="452.7" y="1017.4" width="18.3" height="96.3" fill="#6E8BB0" stroke="#000" stroke-width="1.5"/>
<rect x="497.7" y="1080.5" width="19.1" height="33.2" fill="#6E8BB0" stroke="#000" stroke-width="1.5"/>
<rect x="543.0" y="1031.4" width="18.6" height="82.3" fill="#6E8BB0" stroke="#000" stroke-width="1.5"/>
<line x1="417.4" y1="1078.5" x2="417.4" y2="1082.5" stroke="#000" stroke-width="1.5"/>
<line x1="413.4" y1="1078.5" x2="421.4" y2="1078.5" stroke="#000" stroke-width="1.5"/>
<line x1="413.4" y1="1082.5" x2="421.4" y2="1082.5" stroke="#000" stroke-width="1.5"/>
<line x1="461.9" y1="1014.8" x2="461.9" y2="1020.1" stroke="#000" stroke-width="1.5"/>
<line x1="457.9" y1="1014.8" x2="465.9" y2="1014.8" stroke="#000" stroke-width="1.5"/>
<line x1="457.9" y1="1020.1" x2="465.9" y2="1020.1" stroke="#000" stroke-width="1.5"/>
<line x1="507.2" y1="1078.5" x2="507.2" y2="1082.5" stroke="#000" stroke-width="1.5"/>
<line x1="503.2" y1="1078.5" x2="511.2" y2="1078.5" stroke="#000" stroke-width="1.5"/>
<line x1="503.2" y1="1082.5" x2="511.2" y2="1082.5" stroke="#000" stroke-width="1.5"/>
<line x1="552.3" y1="1028.7" x2="552.3" y2="1034.0" stroke="#000" stroke-width="1.5"/>
<line x1="548.3" y1="1028.7" x2="556.3" y2="1028.7" stroke="#000" stroke-width="1.5"/>
<line x1="548.3" y1="1034.0" x2="556.3" y2="1034.0" stroke="#000" stroke-width="1.5"/>
<line x1="395.0" y1="980.9" x2="395.0" y2="1113.7" stroke="#000" stroke-width="2"/>
<line x1="384.5" y1="1113.7" x2="395.0" y2="1113.7" stroke="#000" stroke-width="2"/>
<text transform="translate(363.0 1122.3) scale(1.19 1)" font-size="24.5" text-anchor="end">0</text>
<line x1="384.5" y1="1047.3" x2="395.0" y2="1047.3" stroke="#000" stroke-width="2"/>
<text transform="translate(363.0 1055.9) scale(1.19 1)" font-size="24.5" text-anchor="end">2</text>
<line x1="384.5" y1="980.9" x2="395.0" y2="980.9" stroke="#000" stroke-width="2"/>
<text transform="translate(363.0 989.5) scale(1.19 1)" font-size="24.5" text-anchor="end">4</text>
<line x1="384.5" y1="1113.7" x2="576.0" y2="1113.7" stroke="#000" stroke-width="2"/>
<line x1="395.0" y1="1113.7" x2="395.0" y2="1120.7" stroke="#000" stroke-width="2"/>
<line x1="439.3" y1="1113.7" x2="439.3" y2="1120.7" stroke="#000" stroke-width="2"/>
<line x1="484.4" y1="1113.7" x2="484.4" y2="1120.7" stroke="#000" stroke-width="2"/>
<line x1="529.4" y1="1113.7" x2="529.4" y2="1120.7" stroke="#000" stroke-width="2"/>
<line x1="575.0" y1="1113.7" x2="575.0" y2="1120.7" stroke="#000" stroke-width="2"/>
<text transform="translate(461.9 1011.4) scale(1.1 1)" font-size="23" text-anchor="middle">**</text>
<text transform="translate(552.3 1023.7) scale(1.1 1)" font-size="23" text-anchor="middle">**</text>
<rect x="656.3" y="1089.4" width="18.7" height="22.2" fill="#7B7661" stroke="#000" stroke-width="1.5"/>
<rect x="701.0" y="1058.3" width="18.3" height="53.3" fill="#7B7661" stroke="#000" stroke-width="1.5"/>
<rect x="746.3" y="1089.4" width="18.7" height="22.2" fill="#7B7661" stroke="#000" stroke-width="1.5"/>
<rect x="791.4" y="1027.7" width="18.6" height="83.9" fill="#7B7661" stroke="#000" stroke-width="1.5"/>
<line x1="665.6" y1="1087.6" x2="665.6" y2="1091.2" stroke="#000" stroke-width="1.5"/>
<line x1="661.6" y1="1087.6" x2="669.6" y2="1087.6" stroke="#000" stroke-width="1.5"/>
<line x1="661.6" y1="1091.2" x2="669.6" y2="1091.2" stroke="#000" stroke-width="1.5"/>
<line x1="710.1" y1="1055.0" x2="710.1" y2="1061.6" stroke="#000" stroke-width="1.5"/>
<line x1="706.1" y1="1055.0" x2="714.1" y2="1055.0" stroke="#000" stroke-width="1.5"/>
<line x1="706.1" y1="1061.6" x2="714.1" y2="1061.6" stroke="#000" stroke-width="1.5"/>
<line x1="755.6" y1="1088.7" x2="755.6" y2="1090.1" stroke="#000" stroke-width="1.5"/>
<line x1="751.6" y1="1088.7" x2="759.6" y2="1088.7" stroke="#000" stroke-width="1.5"/>
<line x1="751.6" y1="1090.1" x2="759.6" y2="1090.1" stroke="#000" stroke-width="1.5"/>
<line x1="800.7" y1="1023.9" x2="800.7" y2="1031.5" stroke="#000" stroke-width="1.5"/>
<line x1="796.7" y1="1023.9" x2="804.7" y2="1023.9" stroke="#000" stroke-width="1.5"/>
<line x1="796.7" y1="1031.5" x2="804.7" y2="1031.5" stroke="#000" stroke-width="1.5"/>
<line x1="643.7" y1="978.4" x2="643.7" y2="1111.6" stroke="#000" stroke-width="2"/>
<line x1="633.2" y1="1111.6" x2="643.7" y2="1111.6" stroke="#000" stroke-width="2"/>
<text transform="translate(613.0 1120.2) scale(1.19 1)" font-size="24.5" text-anchor="end">0</text>
<line x1="633.2" y1="1067.2" x2="643.7" y2="1067.2" stroke="#000" stroke-width="2"/>
<text transform="translate(613.0 1075.8) scale(1.19 1)" font-size="24.5" text-anchor="end">2</text>
<line x1="633.2" y1="1022.8" x2="643.7" y2="1022.8" stroke="#000" stroke-width="2"/>
<text transform="translate(613.0 1031.4) scale(1.19 1)" font-size="24.5" text-anchor="end">4</text>
<line x1="633.2" y1="978.4" x2="643.7" y2="978.4" stroke="#000" stroke-width="2"/>
<text transform="translate(613.0 987.0) scale(1.19 1)" font-size="24.5" text-anchor="end">6</text>
<line x1="633.2" y1="1111.6" x2="823.7" y2="1111.6" stroke="#000" stroke-width="2"/>
<line x1="643.7" y1="1111.6" x2="643.7" y2="1118.6" stroke="#000" stroke-width="2"/>
<line x1="687.6" y1="1111.6" x2="687.6" y2="1118.6" stroke="#000" stroke-width="2"/>
<line x1="732.7" y1="1111.6" x2="732.7" y2="1118.6" stroke="#000" stroke-width="2"/>
<line x1="777.7" y1="1111.6" x2="777.7" y2="1118.6" stroke="#000" stroke-width="2"/>
<line x1="822.7" y1="1111.6" x2="822.7" y2="1118.6" stroke="#000" stroke-width="2"/>
<text transform="translate(710.2 1051.9) scale(1.1 1)" font-size="23" text-anchor="middle">**</text>
<text transform="translate(800.7 1020.9) scale(1.1 1)" font-size="23" text-anchor="middle">**</text>
<rect x="894.7" y="1080.2" width="18.0" height="33.2" fill="#6E8BB0" stroke="#000" stroke-width="1.5"/>
<rect x="939.7" y="1015.1" width="18.0" height="98.3" fill="#6E8BB0" stroke="#000" stroke-width="1.5"/>
<rect x="984.0" y="1080.2" width="18.7" height="33.2" fill="#6E8BB0" stroke="#000" stroke-width="1.5"/>
<rect x="1029.0" y="1022.1" width="18.7" height="91.3" fill="#6E8BB0" stroke="#000" stroke-width="1.5"/>
<line x1="903.7" y1="1077.5" x2="903.7" y2="1082.9" stroke="#000" stroke-width="1.5"/>
<line x1="899.7" y1="1077.5" x2="907.7" y2="1077.5" stroke="#000" stroke-width="1.5"/>
<line x1="899.7" y1="1082.9" x2="907.7" y2="1082.9" stroke="#000" stroke-width="1.5"/>
<line x1="948.7" y1="1012.1" x2="948.7" y2="1018.1" stroke="#000" stroke-width="1.5"/>
<line x1="944.7" y1="1012.1" x2="952.7" y2="1012.1" stroke="#000" stroke-width="1.5"/>
<line x1="944.7" y1="1018.1" x2="952.7" y2="1018.1" stroke="#000" stroke-width="1.5"/>
<line x1="993.4" y1="1077.9" x2="993.4" y2="1082.5" stroke="#000" stroke-width="1.5"/>
<line x1="989.4" y1="1077.9" x2="997.4" y2="1077.9" stroke="#000" stroke-width="1.5"/>
<line x1="989.4" y1="1082.5" x2="997.4" y2="1082.5" stroke="#000" stroke-width="1.5"/>
<line x1="1038.3" y1="1019.4" x2="1038.3" y2="1024.8" stroke="#000" stroke-width="1.5"/>
<line x1="1034.3" y1="1019.4" x2="1042.3" y2="1019.4" stroke="#000" stroke-width="1.5"/>
<line x1="1034.3" y1="1024.8" x2="1042.3" y2="1024.8" stroke="#000" stroke-width="1.5"/>
<line x1="881.4" y1="980.6" x2="881.4" y2="1113.4" stroke="#000" stroke-width="2"/>
<line x1="870.9" y1="1113.4" x2="881.4" y2="1113.4" stroke="#000" stroke-width="2"/>
<text transform="translate(851.0 1122.0) scale(1.19 1)" font-size="24.5" text-anchor="end">0</text>
<line x1="870.9" y1="1047.0" x2="881.4" y2="1047.0" stroke="#000" stroke-width="2"/>
<text transform="translate(851.0 1055.6) scale(1.19 1)" font-size="24.5" text-anchor="end">2</text>
<line x1="870.9" y1="980.6" x2="881.4" y2="980.6" stroke="#000" stroke-width="2"/>
<text transform="translate(851.0 989.2) scale(1.19 1)" font-size="24.5" text-anchor="end">4</text>
<line x1="870.9" y1="1113.4" x2="1061.4" y2="1113.4" stroke="#000" stroke-width="2"/>
<line x1="881.4" y1="1113.4" x2="881.4" y2="1120.4" stroke="#000" stroke-width="2"/>
<line x1="926.4" y1="1113.4" x2="926.4" y2="1120.4" stroke="#000" stroke-width="2"/>
<line x1="971.0" y1="1113.4" x2="971.0" y2="1120.4" stroke="#000" stroke-width="2"/>
<line x1="1016.0" y1="1113.4" x2="1016.0" y2="1120.4" stroke="#000" stroke-width="2"/>
<line x1="1060.4" y1="1113.4" x2="1060.4" y2="1120.4" stroke="#000" stroke-width="2"/>
<text transform="translate(948.7 1007.9) scale(1.1 1)" font-size="23" text-anchor="middle">**</text>
<text transform="translate(1038.4 1017.9) scale(1.1 1)" font-size="23" text-anchor="middle">**</text>
<text transform="translate(181.8 1130.5) scale(1.25 1) rotate(-90)" font-size="23.5" text-anchor="end">mock-1</text>
<text transform="translate(228.6 1130.5) scale(1.25 1) rotate(-90)" font-size="23.5" text-anchor="end">cis</text>
<text transform="translate(276.0 1130.5) scale(1.25 1) rotate(-90)" font-size="23.5" text-anchor="end">mock-2</text>
<text transform="translate(323.7 1130.5) scale(1.25 1) rotate(-90)" font-size="23.5" text-anchor="end">pac</text>
<text transform="translate(429.7 1130.5) scale(1.25 1) rotate(-90)" font-size="23.5" text-anchor="end">mock-1</text>
<text transform="translate(474.4 1130.5) scale(1.25 1) rotate(-90)" font-size="23.5" text-anchor="end">cis</text>
<text transform="translate(519.5 1130.5) scale(1.25 1) rotate(-90)" font-size="23.5" text-anchor="end">mock-2</text>
<text transform="translate(564.7 1130.5) scale(1.25 1) rotate(-90)" font-size="23.5" text-anchor="end">pac</text>
<text transform="translate(678.1 1130.5) scale(1.25 1) rotate(-90)" font-size="23.5" text-anchor="end">mock-1</text>
<text transform="translate(722.7 1130.5) scale(1.25 1) rotate(-90)" font-size="23.5" text-anchor="end">cis</text>
<text transform="translate(767.7 1130.5) scale(1.25 1) rotate(-90)" font-size="23.5" text-anchor="end">mock-2</text>
<text transform="translate(812.7 1130.5) scale(1.25 1) rotate(-90)" font-size="23.5" text-anchor="end">pac</text>
<text transform="translate(916.4 1130.5) scale(1.25 1) rotate(-90)" font-size="23.5" text-anchor="end">mock-1</text>
<text transform="translate(961.2 1130.5) scale(1.25 1) rotate(-90)" font-size="23.5" text-anchor="end">cis</text>
<text transform="translate(1006.0 1130.5) scale(1.25 1) rotate(-90)" font-size="23.5" text-anchor="end">mock-2</text>
<text transform="translate(1050.7 1130.5) scale(1.25 1) rotate(-90)" font-size="23.5" text-anchor="end">pac</text>
<text x="56.8" y="1077.5" font-size="28" text-anchor="middle" transform="rotate(-90 56.8 1077.5)">Protein levels</text>
<rect x="156.0" y="1235.8" width="402.0" height="8.1" fill="#000"/>
<rect x="648.8" y="1235.6" width="401.8" height="8.1" fill="#000"/>
<text x="367.3" y="1290.0" font-size="28" text-anchor="middle">SGC7901</text>
<text x="856.4" y="1291.0" font-size="28" text-anchor="middle">MKN45</text>
<text x="1115.1" y="598.8" font-size="85">D</text>
<text x="1115.4" y="954.1" font-size="85">E</text>
<text x="1252.5" y="629.5" font-size="23.3">SGC7901</text>
<text x="1468.6" y="629.5" font-size="24">MKN45</text>
<rect x="1244.3" y="733.5" width="19.4" height="69.3" fill="#747474" stroke="#000" stroke-width="1.3"/>
<rect x="1293.2" y="719.2" width="18.8" height="83.6" fill="#747474" stroke="#000" stroke-width="1.3"/>
<rect x="1341.5" y="724.7" width="18.5" height="78.1" fill="#747474" stroke="#000" stroke-width="1.3"/>
<line x1="1254.0" y1="731.4" x2="1254.0" y2="735.6" stroke="#000" stroke-width="1.3"/>
<line x1="1250.5" y1="731.4" x2="1257.5" y2="731.4" stroke="#000" stroke-width="1.3"/>
<line x1="1250.5" y1="735.6" x2="1257.5" y2="735.6" stroke="#000" stroke-width="1.3"/>
<line x1="1302.6" y1="716.7" x2="1302.6" y2="721.6" stroke="#000" stroke-width="1.3"/>
<line x1="1299.1" y1="716.7" x2="1306.1" y2="716.7" stroke="#000" stroke-width="1.3"/>
<line x1="1299.1" y1="721.6" x2="1306.1" y2="721.6" stroke="#000" stroke-width="1.3"/>
<line x1="1350.8" y1="722.6" x2="1350.8" y2="726.8" stroke="#000" stroke-width="1.3"/>
<line x1="1347.2" y1="722.6" x2="1354.2" y2="722.6" stroke="#000" stroke-width="1.3"/>
<line x1="1347.2" y1="726.8" x2="1354.2" y2="726.8" stroke="#000" stroke-width="1.3"/>
<line x1="1230.0" y1="664.2" x2="1230.0" y2="802.8" stroke="#000" stroke-width="2"/>
<line x1="1222.5" y1="802.8" x2="1230.0" y2="802.8" stroke="#000" stroke-width="2"/>
<text x="1207.0" y="810.1" font-size="21" text-anchor="end">0</text>
<line x1="1222.5" y1="733.5" x2="1230.0" y2="733.5" stroke="#000" stroke-width="2"/>
<text x="1207.0" y="740.9" font-size="21" text-anchor="end">1</text>
<line x1="1222.5" y1="664.2" x2="1230.0" y2="664.2" stroke="#000" stroke-width="2"/>
<text x="1207.0" y="671.5" font-size="21" text-anchor="end">2</text>
<line x1="1222.5" y1="802.8" x2="1375.8" y2="802.8" stroke="#000" stroke-width="2"/>
<line x1="1230.4" y1="802.8" x2="1230.4" y2="810.3" stroke="#000" stroke-width="2"/>
<line x1="1278.5" y1="802.8" x2="1278.5" y2="810.3" stroke="#000" stroke-width="2"/>
<line x1="1326.7" y1="802.8" x2="1326.7" y2="810.3" stroke="#000" stroke-width="2"/>
<line x1="1374.8" y1="802.8" x2="1374.8" y2="810.3" stroke="#000" stroke-width="2"/>
<rect x="1439.8" y="733.5" width="19.8" height="69.3" fill="#747474" stroke="#000" stroke-width="1.3"/>
<rect x="1488.3" y="721.7" width="19.1" height="81.1" fill="#747474" stroke="#000" stroke-width="1.3"/>
<rect x="1536.5" y="707.2" width="18.7" height="95.6" fill="#747474" stroke="#000" stroke-width="1.3"/>
<line x1="1449.7" y1="730.0" x2="1449.7" y2="737.0" stroke="#000" stroke-width="1.3"/>
<line x1="1446.2" y1="730.0" x2="1453.2" y2="730.0" stroke="#000" stroke-width="1.3"/>
<line x1="1446.2" y1="737.0" x2="1453.2" y2="737.0" stroke="#000" stroke-width="1.3"/>
<line x1="1497.8" y1="719.6" x2="1497.8" y2="723.8" stroke="#000" stroke-width="1.3"/>
<line x1="1494.3" y1="719.6" x2="1501.3" y2="719.6" stroke="#000" stroke-width="1.3"/>
<line x1="1494.3" y1="723.8" x2="1501.3" y2="723.8" stroke="#000" stroke-width="1.3"/>
<line x1="1545.8" y1="703.7" x2="1545.8" y2="710.6" stroke="#000" stroke-width="1.3"/>
<line x1="1542.3" y1="703.7" x2="1549.3" y2="703.7" stroke="#000" stroke-width="1.3"/>
<line x1="1542.3" y1="710.6" x2="1549.3" y2="710.6" stroke="#000" stroke-width="1.3"/>
<line x1="1426.1" y1="664.2" x2="1426.1" y2="802.8" stroke="#000" stroke-width="2"/>
<line x1="1418.6" y1="802.8" x2="1426.1" y2="802.8" stroke="#000" stroke-width="2"/>
<text x="1403.0" y="810.1" font-size="21" text-anchor="end">0</text>
<line x1="1418.6" y1="733.5" x2="1426.1" y2="733.5" stroke="#000" stroke-width="2"/>
<text x="1403.0" y="740.9" font-size="21" text-anchor="end">1</text>
<line x1="1418.6" y1="664.2" x2="1426.1" y2="664.2" stroke="#000" stroke-width="2"/>
<text x="1403.0" y="671.5" font-size="21" text-anchor="end">2</text>
<line x1="1418.6" y1="802.8" x2="1571.6" y2="802.8" stroke="#000" stroke-width="2"/>
<line x1="1426.1" y1="802.8" x2="1426.1" y2="810.3" stroke="#000" stroke-width="2"/>
<line x1="1474.0" y1="802.8" x2="1474.0" y2="810.3" stroke="#000" stroke-width="2"/>
<line x1="1521.8" y1="802.8" x2="1521.8" y2="810.3" stroke="#000" stroke-width="2"/>
<line x1="1570.6" y1="802.8" x2="1570.6" y2="810.3" stroke="#000" stroke-width="2"/>
<text x="1261.2" y="837.0" font-size="22.4" text-anchor="end" transform="rotate(-45 1261.2 837.0)">mock</text>
<text x="1309.4" y="837.0" font-size="22.4" text-anchor="end" transform="rotate(-45 1309.4 837.0)">cis</text>
<text x="1357.6" y="837.0" font-size="22.4" text-anchor="end" transform="rotate(-45 1357.6 837.0)">pac</text>
<text x="1456.8" y="837.0" font-size="22.4" text-anchor="end" transform="rotate(-45 1456.8 837.0)">mock</text>
<text x="1504.7" y="837.0" font-size="22.4" text-anchor="end" transform="rotate(-45 1504.7 837.0)">cis</text>
<text x="1553.0" y="837.0" font-size="22.4" text-anchor="end" transform="rotate(-45 1553.0 837.0)">pac</text>
<text x="1157.8" y="731.1" font-size="24.4" text-anchor="middle" transform="rotate(-90 1157.8 731.1)">Relative levels</text>
<text x="1185.5" y="731.1" font-size="24.4" text-anchor="middle" transform="rotate(-90 1185.5 731.1)">of lncFERO</text>
<text x="1249.1" y="950.0" font-size="23.6">SGC exos</text>
<text x="1453.0" y="950.0" font-size="24.3">MKN exos</text>
<rect x="1248.6" y="1102.5" width="19.1" height="34.6" fill="#637892" stroke="#000" stroke-width="1.3"/>
<rect x="1295.8" y="1024.0" width="18.3" height="113.1" fill="#637892" stroke="#000" stroke-width="1.3"/>
<rect x="1342.7" y="1043.3" width="17.9" height="93.8" fill="#637892" stroke="#000" stroke-width="1.3"/>
<line x1="1258.2" y1="1100.1" x2="1258.2" y2="1104.9" stroke="#000" stroke-width="1.3"/>
<line x1="1254.7" y1="1100.1" x2="1261.7" y2="1100.1" stroke="#000" stroke-width="1.3"/>
<line x1="1254.7" y1="1104.9" x2="1261.7" y2="1104.9" stroke="#000" stroke-width="1.3"/>
<line x1="1304.9" y1="1018.8" x2="1304.9" y2="1029.1" stroke="#000" stroke-width="1.3"/>
<line x1="1301.4" y1="1018.8" x2="1308.4" y2="1018.8" stroke="#000" stroke-width="1.3"/>
<line x1="1301.4" y1="1029.1" x2="1308.4" y2="1029.1" stroke="#000" stroke-width="1.3"/>
<line x1="1351.7" y1="1037.5" x2="1351.7" y2="1049.2" stroke="#000" stroke-width="1.3"/>
<line x1="1348.2" y1="1037.5" x2="1355.2" y2="1037.5" stroke="#000" stroke-width="1.3"/>
<line x1="1348.2" y1="1049.2" x2="1355.2" y2="1049.2" stroke="#000" stroke-width="1.3"/>
<line x1="1235.1" y1="998.7" x2="1235.1" y2="1137.1" stroke="#000" stroke-width="2"/>
<line x1="1227.1" y1="1137.1" x2="1235.1" y2="1137.1" stroke="#000" stroke-width="2"/>
<text x="1212.0" y="1144.4" font-size="21" text-anchor="end">0</text>
<line x1="1227.1" y1="1067.9" x2="1235.1" y2="1067.9" stroke="#000" stroke-width="2"/>
<text x="1212.0" y="1075.2" font-size="21" text-anchor="end">2</text>
<line x1="1227.1" y1="998.7" x2="1235.1" y2="998.7" stroke="#000" stroke-width="2"/>
<text x="1212.0" y="1006.0" font-size="21" text-anchor="end">4</text>
<line x1="1227.1" y1="1137.1" x2="1375.8" y2="1137.1" stroke="#000" stroke-width="2"/>
<line x1="1235.1" y1="1137.1" x2="1235.1" y2="1144.6" stroke="#000" stroke-width="2"/>
<line x1="1281.9" y1="1137.1" x2="1281.9" y2="1144.6" stroke="#000" stroke-width="2"/>
<line x1="1328.3" y1="1137.1" x2="1328.3" y2="1144.6" stroke="#000" stroke-width="2"/>
<line x1="1374.8" y1="1137.1" x2="1374.8" y2="1144.6" stroke="#000" stroke-width="2"/>
<rect x="1443.2" y="1102.5" width="19.5" height="34.6" fill="#637892" stroke="#000" stroke-width="1.3"/>
<rect x="1491.0" y="1031.9" width="18.8" height="105.2" fill="#637892" stroke="#000" stroke-width="1.3"/>
<rect x="1538.2" y="1016.0" width="18.4" height="121.1" fill="#637892" stroke="#000" stroke-width="1.3"/>
<line x1="1453.0" y1="1100.8" x2="1453.0" y2="1104.2" stroke="#000" stroke-width="1.3"/>
<line x1="1449.5" y1="1100.8" x2="1456.5" y2="1100.8" stroke="#000" stroke-width="1.3"/>
<line x1="1449.5" y1="1104.2" x2="1456.5" y2="1104.2" stroke="#000" stroke-width="1.3"/>
<line x1="1500.4" y1="1026.0" x2="1500.4" y2="1037.8" stroke="#000" stroke-width="1.3"/>
<line x1="1496.9" y1="1026.0" x2="1503.9" y2="1026.0" stroke="#000" stroke-width="1.3"/>
<line x1="1496.9" y1="1037.8" x2="1503.9" y2="1037.8" stroke="#000" stroke-width="1.3"/>
<line x1="1547.4" y1="1011.5" x2="1547.4" y2="1020.5" stroke="#000" stroke-width="1.3"/>
<line x1="1543.9" y1="1011.5" x2="1550.9" y2="1011.5" stroke="#000" stroke-width="1.3"/>
<line x1="1543.9" y1="1020.5" x2="1550.9" y2="1020.5" stroke="#000" stroke-width="1.3"/>
<line x1="1430.6" y1="998.7" x2="1430.6" y2="1137.1" stroke="#000" stroke-width="2"/>
<line x1="1422.6" y1="1137.1" x2="1430.6" y2="1137.1" stroke="#000" stroke-width="2"/>
<text x="1407.0" y="1144.4" font-size="21" text-anchor="end">0</text>
<line x1="1422.6" y1="1067.9" x2="1430.6" y2="1067.9" stroke="#000" stroke-width="2"/>
<text x="1407.0" y="1075.2" font-size="21" text-anchor="end">2</text>
<line x1="1422.6" y1="998.7" x2="1430.6" y2="998.7" stroke="#000" stroke-width="2"/>
<text x="1407.0" y="1006.0" font-size="21" text-anchor="end">4</text>
<line x1="1422.6" y1="1137.1" x2="1571.6" y2="1137.1" stroke="#000" stroke-width="2"/>
<line x1="1430.6" y1="1137.1" x2="1430.6" y2="1144.6" stroke="#000" stroke-width="2"/>
<line x1="1477.4" y1="1137.1" x2="1477.4" y2="1144.6" stroke="#000" stroke-width="2"/>
<line x1="1523.5" y1="1137.1" x2="1523.5" y2="1144.6" stroke="#000" stroke-width="2"/>
<line x1="1570.6" y1="1137.1" x2="1570.6" y2="1144.6" stroke="#000" stroke-width="2"/>
<text transform="translate(1257.2 1098.3) scale(1.15 1)" font-size="23" text-anchor="middle">**</text>
<text transform="translate(1452.9 1098.3) scale(1.15 1)" font-size="23" text-anchor="middle">**</text>
<text x="1265.0" y="1171.0" font-size="22.2" text-anchor="end" transform="rotate(-45 1265.0 1171.0)">mock</text>
<text x="1311.6" y="1171.0" font-size="22.2" text-anchor="end" transform="rotate(-45 1311.6 1171.0)">cis</text>
<text x="1358.1" y="1171.0" font-size="22.2" text-anchor="end" transform="rotate(-45 1358.1 1171.0)">pac</text>
<text x="1460.5" y="1171.0" font-size="22.2" text-anchor="end" transform="rotate(-45 1460.5 1171.0)">mock</text>
<text x="1507.0" y="1171.0" font-size="22.2" text-anchor="end" transform="rotate(-45 1507.0 1171.0)">cis</text>
<text x="1553.5" y="1171.0" font-size="22.2" text-anchor="end" transform="rotate(-45 1553.5 1171.0)">pac</text>
<text x="1157.8" y="1084.2" font-size="24.4" text-anchor="middle" transform="rotate(-90 1157.8 1084.2)">Relative levels</text>
<text x="1184.5" y="1083.0" font-size="24.4" text-anchor="middle" transform="rotate(-90 1184.5 1083.0)">of lncFERO</text>
<text x="7.3" y="1360.8" font-size="85">F</text>
<text x="95.7" y="1353.1" font-size="27">SGC7901</text>
<rect x="188.0" y="1490.9" width="385.1" height="67.7" fill="#E0E0E0"/>
<rect x="594.0" y="1490.9" width="384.6" height="67.7" fill="#E0E0E0"/>
<rect x="188.0" y="1574.8" width="385.1" height="60.1" fill="#E0E0E0"/>
<rect x="594.0" y="1574.8" width="384.6" height="60.1" fill="#E0E0E0"/>
<rect x="188.0" y="1649.3" width="385.1" height="67.6" fill="#E0E0E0"/>
<rect x="594.0" y="1649.3" width="384.6" height="67.6" fill="#E0E0E0"/>
<g clip-path="url(#cl2)">
<rect x="203" y="1530" width="69" height="28.6" fill="#D2D2D2" opacity="0.8" filter="url(#b3)"/>
<rect x="295" y="1530" width="74" height="28.6" fill="#D2D2D2" opacity="0.8" filter="url(#b3)"/>
<rect x="391" y="1530" width="67" height="28.6" fill="#D2D2D2" opacity="0.8" filter="url(#b3)"/>
<rect x="485" y="1530" width="75" height="28.6" fill="#D2D2D2" opacity="0.8" filter="url(#b3)"/>
</g>
<g clip-path="url(#cl3)">
<rect x="398" y="1586" width="68" height="48.9" fill="#C6C6C6" opacity="0.9" filter="url(#b3)"/>
</g>
<g clip-path="url(#cl4)">
<rect x="594" y="1490.9" width="384.6" height="67.7" fill="#D8D8D8"/>
<rect x="594" y="1490.9" width="12" height="67.7" fill="#E4E4E4" filter="url(#b3)"/>
<rect x="686" y="1490.9" width="11" height="67.7" fill="#E2E2E2" filter="url(#b3)"/>
<rect x="700" y="1490.9" width="90" height="67.7" fill="#DEDEDE" filter="url(#b3)"/>
<rect x="963" y="1490.9" width="15.600000000000023" height="67.7" fill="#E6E6E6" filter="url(#b3)"/>
<rect x="795" y="1535" width="65" height="23.6" fill="#C4C4C4" opacity="0.8" filter="url(#b3)"/>
<rect x="880" y="1535" width="82" height="23.6" fill="#C4C4C4" opacity="0.8" filter="url(#b3)"/>
</g>
<rect x="205.0" y="1513.0" width="65.0" height="9.0" rx="4.5" fill="#2a2a2a" filter="url(#b2)"/>
<rect x="207.0" y="1513.5" width="55.0" height="6.0" rx="3.0" fill="#111" filter="url(#b2)"/>
<rect x="297.0" y="1514.0" width="70.0" height="12.0" rx="6.0" fill="#000" filter="url(#b2)"/>
<ellipse cx="360.0" cy="1525.0" rx="8.0" ry="7.0" fill="#000" filter="url(#b3)"/>
<rect x="393.0" y="1515.0" width="63.0" height="10.0" rx="5.0" fill="#000" filter="url(#b2)"/>
<rect x="487.0" y="1522.0" width="71.0" height="6.0" rx="3.0" fill="#333" filter="url(#b2)"/>
<ellipse cx="496.0" cy="1524.0" rx="8.0" ry="3.5" fill="#1a1a1a" filter="url(#b2)"/>
<ellipse cx="550.0" cy="1525.0" rx="8.0" ry="3.5" fill="#1a1a1a" filter="url(#b2)"/>
<rect x="204.0" y="1601.0" width="77.0" height="7.0" rx="3.5" fill="#333" filter="url(#b2)"/>
<ellipse cx="218.0" cy="1604.0" rx="12.0" ry="4.0" fill="#222" filter="url(#b2)"/>
<ellipse cx="272.0" cy="1604.0" rx="9.0" ry="4.0" fill="#2a2a2a" filter="url(#b2)"/>
<rect x="308.0" y="1600.0" width="69.0" height="10.0" rx="5.0" fill="#000" filter="url(#b2)"/>
<rect x="400.0" y="1607.5" width="66.0" height="9.0" rx="4.5" fill="#000" filter="url(#b2)"/>
<ellipse cx="497.5" cy="1612.0" rx="5.0" ry="3.5" fill="#888" filter="url(#b2)"/>
<ellipse cx="518.0" cy="1612.0" rx="5.0" ry="3.0" fill="#b0b0b0" filter="url(#b2)"/>
<ellipse cx="531.0" cy="1612.0" rx="5.0" ry="3.5" fill="#666" filter="url(#b2)"/>
<ellipse cx="550.0" cy="1612.0" rx="5.0" ry="3.5" fill="#777" filter="url(#b2)"/>
<rect x="206.0" y="1672.5" width="73.0" height="20.0" rx="10.0" fill="#000" filter="url(#b3)"/>
<ellipse cx="279.0" cy="1683.0" rx="5.0" ry="7.0" fill="#333" filter="url(#b2)"/>
<rect x="296.0" y="1671.0" width="71.0" height="20.0" rx="10.0" fill="#000" filter="url(#b3)"/>
<rect x="388.0" y="1672.5" width="68.0" height="21.0" rx="10.5" fill="#000" filter="url(#b3)"/>
<rect x="482.0" y="1675.5" width="69.0" height="19.0" rx="9.5" fill="#000" filter="url(#b3)"/>
<rect x="612.0" y="1514.5" width="70.0" height="11.0" rx="5.5" fill="#151515" filter="url(#b2)"/>
<rect x="700.0" y="1516.0" width="71.0" height="10.0" rx="5.0" fill="#222" filter="url(#b2)"/>
<rect x="795.0" y="1517.5" width="64.0" height="11.0" rx="5.5" fill="#111" filter="url(#b2)"/>
<rect x="879.0" y="1515.5" width="71.0" height="11.0" rx="5.5" fill="#111" filter="url(#b2)"/>
<ellipse cx="952.0" cy="1522.0" rx="8.0" ry="5.0" fill="#555" filter="url(#b3)"/>
<rect x="613.0" y="1601.0" width="68.0" height="10.0" rx="5.0" fill="#222" filter="url(#b2)"/>
<ellipse cx="668.0" cy="1607.0" rx="10.0" ry="5.0" fill="#111" filter="url(#b2)"/>
<rect x="714.0" y="1596.5" width="64.0" height="16.0" rx="8.0" fill="#000" filter="url(#b3)"/>
<rect x="818.0" y="1601.0" width="44.0" height="9.0" rx="4.5" fill="#000" filter="url(#b2)"/>
<ellipse cx="812.0" cy="1603.0" rx="8.0" ry="4.0" fill="#555" filter="url(#b3)"/>
<rect x="892.0" y="1602.5" width="63.0" height="5.0" rx="2.5" fill="#808080" filter="url(#b2)"/>
<rect x="617.0" y="1671.0" width="55.0" height="18.0" rx="9.0" fill="#000" filter="url(#b3)"/>
<ellipse cx="678.0" cy="1681.0" rx="6.0" ry="7.0" fill="#888" filter="url(#b3)"/>
<rect x="709.0" y="1670.0" width="62.0" height="19.0" rx="9.5" fill="#000" filter="url(#b3)"/>
<ellipse cx="779.0" cy="1681.0" rx="8.0" ry="7.0" fill="#999" filter="url(#b3)"/>
<rect x="805.0" y="1671.0" width="57.0" height="18.0" rx="9.0" fill="#000" filter="url(#b3)"/>
<ellipse cx="866.0" cy="1681.0" rx="6.0" ry="7.0" fill="#888" filter="url(#b3)"/>
<rect x="898.0" y="1670.5" width="51.0" height="19.0" rx="9.5" fill="#000" filter="url(#b3)"/>
<ellipse cx="956.0" cy="1681.0" rx="6.0" ry="7.0" fill="#999" filter="url(#b3)"/>
<text x="90.7" y="1543.1" font-size="28">USP7</text>
<text x="39.5" y="1623.3" font-size="28">hnRNPA1</text>
<text x="65.2" y="1694.5" font-size="28">GAPDH</text>
<text x="982.6" y="1526.7" font-size="28">135KD</text>
<text x="985.4" y="1624.0" font-size="28">34KD</text>
<text x="987.3" y="1705.0" font-size="28">36KD</text>
<text x="240.0" y="1476.0" font-size="27.5" transform="rotate(-45 240.0 1476.0)">OE.NC</text>
<text x="338.0" y="1478.0" font-size="27.5" transform="rotate(-45 338.0 1478.0)">OE.USP7</text>
<text x="428.0" y="1478.0" font-size="27.5" transform="rotate(-45 428.0 1478.0)">si.NC</text>
<text x="519.5" y="1478.0" font-size="27.5" transform="rotate(-45 519.5 1478.0)">si.USP7</text>
<text x="637.7" y="1476.0" font-size="27.5" transform="rotate(-45 637.7 1476.0)">OE.NC</text>
<text x="736.3" y="1477.0" font-size="27.5" transform="rotate(-45 736.3 1477.0)">OE.hnRNPA1</text>
<text x="824.6" y="1477.0" font-size="27.5" transform="rotate(-45 824.6 1477.0)">si.NC</text>
<text x="915.0" y="1477.0" font-size="27.5" transform="rotate(-45 915.0 1477.0)">si.hnRNPA1</text>
<rect x="187.4" y="1853.2" width="17.2" height="37.5" fill="#EED1D3" stroke="#000" stroke-width="1.5"/>
<rect x="230.2" y="1765.4" width="17.0" height="125.4" fill="#EED1D3" stroke="#000" stroke-width="1.5"/>
<rect x="273.6" y="1853.2" width="17.1" height="37.5" fill="#EED1D3" stroke="#000" stroke-width="1.5"/>
<rect x="316.2" y="1879.2" width="17.1" height="11.6" fill="#EED1D3" stroke="#000" stroke-width="1.5"/>
<line x1="196.0" y1="1852.1" x2="196.0" y2="1854.4" stroke="#000" stroke-width="1.3"/>
<line x1="192.5" y1="1852.1" x2="199.5" y2="1852.1" stroke="#000" stroke-width="1.3"/>
<line x1="192.5" y1="1854.4" x2="199.5" y2="1854.4" stroke="#000" stroke-width="1.3"/>
<line x1="238.7" y1="1759.9" x2="238.7" y2="1770.8" stroke="#000" stroke-width="1.3"/>
<line x1="235.2" y1="1759.9" x2="242.2" y2="1759.9" stroke="#000" stroke-width="1.3"/>
<line x1="235.2" y1="1770.8" x2="242.2" y2="1770.8" stroke="#000" stroke-width="1.3"/>
<line x1="282.1" y1="1850.6" x2="282.1" y2="1855.9" stroke="#000" stroke-width="1.3"/>
<line x1="278.6" y1="1850.6" x2="285.6" y2="1850.6" stroke="#000" stroke-width="1.3"/>
<line x1="278.6" y1="1855.9" x2="285.6" y2="1855.9" stroke="#000" stroke-width="1.3"/>
<line x1="324.8" y1="1876.9" x2="324.8" y2="1881.4" stroke="#000" stroke-width="1.3"/>
<line x1="321.2" y1="1876.9" x2="328.2" y2="1876.9" stroke="#000" stroke-width="1.3"/>
<line x1="321.2" y1="1881.4" x2="328.2" y2="1881.4" stroke="#000" stroke-width="1.3"/>
<line x1="175.2" y1="1740.6" x2="175.2" y2="1890.8" stroke="#000" stroke-width="2"/>
<line x1="166.2" y1="1890.8" x2="175.2" y2="1890.8" stroke="#000" stroke-width="2"/>
<text x="148.5" y="1899.2" font-size="24" text-anchor="end">0</text>
<line x1="166.2" y1="1853.2" x2="175.2" y2="1853.2" stroke="#000" stroke-width="2"/>
<text x="148.5" y="1861.7" font-size="24" text-anchor="end">1</text>
<line x1="166.2" y1="1815.7" x2="175.2" y2="1815.7" stroke="#000" stroke-width="2"/>
<text x="148.5" y="1824.1" font-size="24" text-anchor="end">2</text>
<line x1="166.2" y1="1778.1" x2="175.2" y2="1778.1" stroke="#000" stroke-width="2"/>
<text x="148.5" y="1786.5" font-size="24" text-anchor="end">3</text>
<line x1="166.2" y1="1740.6" x2="175.2" y2="1740.6" stroke="#000" stroke-width="2"/>
<text x="148.5" y="1749.0" font-size="24" text-anchor="end">4</text>
<line x1="166.2" y1="1890.8" x2="346.6" y2="1890.8" stroke="#000" stroke-width="2"/>
<line x1="175.2" y1="1890.8" x2="175.2" y2="1898.8" stroke="#000" stroke-width="2"/>
<line x1="217.4" y1="1890.8" x2="217.4" y2="1898.8" stroke="#000" stroke-width="2"/>
<line x1="260.2" y1="1890.8" x2="260.2" y2="1898.8" stroke="#000" stroke-width="2"/>
<line x1="302.4" y1="1890.8" x2="302.4" y2="1898.8" stroke="#000" stroke-width="2"/>
<line x1="345.6" y1="1890.8" x2="345.6" y2="1898.8" stroke="#000" stroke-width="2"/>
<text transform="translate(238.1 1758.9) scale(1.2 1)" font-size="22" text-anchor="middle">**</text>
<text transform="translate(323.0 1876.2) scale(1.2 1)" font-size="22" text-anchor="middle">**</text>
<rect x="413.4" y="1841.3" width="17.6" height="49.9" fill="#B87A79" stroke="#000" stroke-width="1.5"/>
<rect x="456.3" y="1767.4" width="17.3" height="123.8" fill="#B87A79" stroke="#000" stroke-width="1.5"/>
<rect x="498.8" y="1841.3" width="18.0" height="49.9" fill="#B87A79" stroke="#000" stroke-width="1.5"/>
<rect x="542.0" y="1879.7" width="17.8" height="11.5" fill="#B87A79" stroke="#000" stroke-width="1.5"/>
<line x1="422.2" y1="1838.8" x2="422.2" y2="1843.8" stroke="#000" stroke-width="1.3"/>
<line x1="418.7" y1="1838.8" x2="425.7" y2="1838.8" stroke="#000" stroke-width="1.3"/>
<line x1="418.7" y1="1843.8" x2="425.7" y2="1843.8" stroke="#000" stroke-width="1.3"/>
<line x1="465.0" y1="1762.5" x2="465.0" y2="1772.4" stroke="#000" stroke-width="1.3"/>
<line x1="461.5" y1="1762.5" x2="468.5" y2="1762.5" stroke="#000" stroke-width="1.3"/>
<line x1="461.5" y1="1772.4" x2="468.5" y2="1772.4" stroke="#000" stroke-width="1.3"/>
<line x1="507.8" y1="1839.3" x2="507.8" y2="1843.3" stroke="#000" stroke-width="1.3"/>
<line x1="504.3" y1="1839.3" x2="511.3" y2="1839.3" stroke="#000" stroke-width="1.3"/>
<line x1="504.3" y1="1843.3" x2="511.3" y2="1843.3" stroke="#000" stroke-width="1.3"/>
<line x1="550.9" y1="1878.2" x2="550.9" y2="1881.2" stroke="#000" stroke-width="1.3"/>
<line x1="547.4" y1="1878.2" x2="554.4" y2="1878.2" stroke="#000" stroke-width="1.3"/>
<line x1="547.4" y1="1881.2" x2="554.4" y2="1881.2" stroke="#000" stroke-width="1.3"/>
<line x1="401.5" y1="1741.5" x2="401.5" y2="1891.2" stroke="#000" stroke-width="2"/>
<line x1="392.5" y1="1891.2" x2="401.5" y2="1891.2" stroke="#000" stroke-width="2"/>
<text x="374.0" y="1899.6" font-size="24" text-anchor="end">0</text>
<line x1="392.5" y1="1841.3" x2="401.5" y2="1841.3" stroke="#000" stroke-width="2"/>
<text x="374.0" y="1849.7" font-size="24" text-anchor="end">1</text>
<line x1="392.5" y1="1791.4" x2="401.5" y2="1791.4" stroke="#000" stroke-width="2"/>
<text x="374.0" y="1799.8" font-size="24" text-anchor="end">2</text>
<line x1="392.5" y1="1741.5" x2="401.5" y2="1741.5" stroke="#000" stroke-width="2"/>
<text x="374.0" y="1749.9" font-size="24" text-anchor="end">3</text>
<line x1="392.5" y1="1891.2" x2="572.9" y2="1891.2" stroke="#000" stroke-width="2"/>
<line x1="401.5" y1="1891.2" x2="401.5" y2="1899.2" stroke="#000" stroke-width="2"/>
<line x1="444.0" y1="1891.2" x2="444.0" y2="1899.2" stroke="#000" stroke-width="2"/>
<line x1="486.9" y1="1891.2" x2="486.9" y2="1899.2" stroke="#000" stroke-width="2"/>
<line x1="529.4" y1="1891.2" x2="529.4" y2="1899.2" stroke="#000" stroke-width="2"/>
<line x1="571.9" y1="1891.2" x2="571.9" y2="1899.2" stroke="#000" stroke-width="2"/>
<text transform="translate(465.0 1763.2) scale(1.2 1)" font-size="22" text-anchor="middle">**</text>
<text transform="translate(551.0 1878.2) scale(1.2 1)" font-size="22" text-anchor="middle">**</text>
<rect x="632.4" y="1781.8" width="14.6" height="84.9" fill="#EED1D3" stroke="#000" stroke-width="1.3"/>
<rect x="667.5" y="1787.7" width="14.1" height="79.0" fill="#EED1D3" stroke="#000" stroke-width="1.3"/>
<rect x="702.4" y="1781.8" width="13.7" height="84.9" fill="#EED1D3" stroke="#000" stroke-width="1.3"/>
<rect x="736.9" y="1761.4" width="14.1" height="105.3" fill="#EED1D3" stroke="#000" stroke-width="1.3"/>
<line x1="639.7" y1="1775.4" x2="639.7" y2="1788.2" stroke="#000" stroke-width="1.2"/>
<line x1="636.7" y1="1775.4" x2="642.7" y2="1775.4" stroke="#000" stroke-width="1.2"/>
<line x1="636.7" y1="1788.2" x2="642.7" y2="1788.2" stroke="#000" stroke-width="1.2"/>
<line x1="674.5" y1="1782.6" x2="674.5" y2="1792.8" stroke="#000" stroke-width="1.2"/>
<line x1="671.5" y1="1782.6" x2="677.5" y2="1782.6" stroke="#000" stroke-width="1.2"/>
<line x1="671.5" y1="1792.8" x2="677.5" y2="1792.8" stroke="#000" stroke-width="1.2"/>
<line x1="709.2" y1="1778.4" x2="709.2" y2="1785.2" stroke="#000" stroke-width="1.2"/>
<line x1="706.2" y1="1778.4" x2="712.2" y2="1778.4" stroke="#000" stroke-width="1.2"/>
<line x1="706.2" y1="1785.2" x2="712.2" y2="1785.2" stroke="#000" stroke-width="1.2"/>
<line x1="744.0" y1="1758.0" x2="744.0" y2="1764.8" stroke="#000" stroke-width="1.2"/>
<line x1="741.0" y1="1758.0" x2="747.0" y2="1758.0" stroke="#000" stroke-width="1.2"/>
<line x1="741.0" y1="1764.8" x2="747.0" y2="1764.8" stroke="#000" stroke-width="1.2"/>
<line x1="622.9" y1="1739.4" x2="622.9" y2="1866.7" stroke="#000" stroke-width="1.8"/>
<line x1="615.4" y1="1866.7" x2="622.9" y2="1866.7" stroke="#000" stroke-width="1.8"/>
<text x="601.3" y="1874.6" font-size="22.5" text-anchor="end">0</text>
<line x1="615.4" y1="1824.2" x2="622.9" y2="1824.2" stroke="#000" stroke-width="1.8"/>
<text x="601.3" y="1832.1" font-size="22.5" text-anchor="end">0.5</text>
<line x1="615.4" y1="1781.8" x2="622.9" y2="1781.8" stroke="#000" stroke-width="1.8"/>
<text x="601.3" y="1789.7" font-size="22.5" text-anchor="end">1</text>
<line x1="615.4" y1="1739.4" x2="622.9" y2="1739.4" stroke="#000" stroke-width="1.8"/>
<text x="601.3" y="1747.2" font-size="22.5" text-anchor="end">1.5</text>
<line x1="615.4" y1="1866.7" x2="761.3" y2="1866.7" stroke="#000" stroke-width="1.8"/>
<line x1="622.9" y1="1866.7" x2="622.9" y2="1874.2" stroke="#000" stroke-width="1.8"/>
<line x1="657.5" y1="1866.7" x2="657.5" y2="1874.2" stroke="#000" stroke-width="1.8"/>
<line x1="692.1" y1="1866.7" x2="692.1" y2="1874.2" stroke="#000" stroke-width="1.8"/>
<line x1="726.1" y1="1866.7" x2="726.1" y2="1874.2" stroke="#000" stroke-width="1.8"/>
<line x1="760.4" y1="1866.7" x2="760.4" y2="1874.2" stroke="#000" stroke-width="1.8"/>
<rect x="832.5" y="1846.0" width="14.3" height="25.2" fill="#B87A79" stroke="#000" stroke-width="1.3"/>
<rect x="868.4" y="1774.8" width="14.3" height="96.4" fill="#B87A79" stroke="#000" stroke-width="1.3"/>
<rect x="904.4" y="1846.0" width="14.4" height="25.2" fill="#B87A79" stroke="#000" stroke-width="1.3"/>
<rect x="940.4" y="1861.1" width="14.4" height="10.1" fill="#B87A79" stroke="#000" stroke-width="1.3"/>
<line x1="839.6" y1="1844.8" x2="839.6" y2="1847.3" stroke="#000" stroke-width="1.2"/>
<line x1="836.6" y1="1844.8" x2="842.6" y2="1844.8" stroke="#000" stroke-width="1.2"/>
<line x1="836.6" y1="1847.3" x2="842.6" y2="1847.3" stroke="#000" stroke-width="1.2"/>
<line x1="875.5" y1="1772.1" x2="875.5" y2="1777.6" stroke="#000" stroke-width="1.2"/>
<line x1="872.5" y1="1772.1" x2="878.5" y2="1772.1" stroke="#000" stroke-width="1.2"/>
<line x1="872.5" y1="1777.6" x2="878.5" y2="1777.6" stroke="#000" stroke-width="1.2"/>
<line x1="911.6" y1="1844.5" x2="911.6" y2="1847.5" stroke="#000" stroke-width="1.2"/>
<line x1="908.6" y1="1844.5" x2="914.6" y2="1844.5" stroke="#000" stroke-width="1.2"/>
<line x1="908.6" y1="1847.5" x2="914.6" y2="1847.5" stroke="#000" stroke-width="1.2"/>
<line x1="947.6" y1="1860.4" x2="947.6" y2="1861.9" stroke="#000" stroke-width="1.2"/>
<line x1="944.6" y1="1860.4" x2="950.6" y2="1860.4" stroke="#000" stroke-width="1.2"/>
<line x1="944.6" y1="1861.9" x2="950.6" y2="1861.9" stroke="#000" stroke-width="1.2"/>
<line x1="822.5" y1="1745.4" x2="822.5" y2="1871.2" stroke="#000" stroke-width="1.8"/>
<line x1="814.5" y1="1871.2" x2="822.5" y2="1871.2" stroke="#000" stroke-width="1.8"/>
<text x="800.7" y="1879.1" font-size="22.5" text-anchor="end">0</text>
<line x1="814.5" y1="1846.0" x2="822.5" y2="1846.0" stroke="#000" stroke-width="1.8"/>
<text x="800.7" y="1853.9" font-size="22.5" text-anchor="end">1</text>
<line x1="814.5" y1="1820.9" x2="822.5" y2="1820.9" stroke="#000" stroke-width="1.8"/>
<text x="800.7" y="1828.8" font-size="22.5" text-anchor="end">2</text>
<line x1="814.5" y1="1795.7" x2="822.5" y2="1795.7" stroke="#000" stroke-width="1.8"/>
<text x="800.7" y="1803.6" font-size="22.5" text-anchor="end">3</text>
<line x1="814.5" y1="1770.6" x2="822.5" y2="1770.6" stroke="#000" stroke-width="1.8"/>
<text x="800.7" y="1778.4" font-size="22.5" text-anchor="end">4</text>
<line x1="814.5" y1="1745.4" x2="822.5" y2="1745.4" stroke="#000" stroke-width="1.8"/>
<text x="800.7" y="1753.3" font-size="22.5" text-anchor="end">5</text>
<line x1="814.5" y1="1871.2" x2="965.5" y2="1871.2" stroke="#000" stroke-width="1.8"/>
<line x1="822.5" y1="1871.2" x2="822.5" y2="1878.7" stroke="#000" stroke-width="1.8"/>
<line x1="858.0" y1="1871.2" x2="858.0" y2="1878.7" stroke="#000" stroke-width="1.8"/>
<line x1="893.6" y1="1871.2" x2="893.6" y2="1878.7" stroke="#000" stroke-width="1.8"/>
<line x1="929.3" y1="1871.2" x2="929.3" y2="1878.7" stroke="#000" stroke-width="1.8"/>
<line x1="964.6" y1="1871.2" x2="964.6" y2="1878.7" stroke="#000" stroke-width="1.8"/>
<text transform="translate(875.5 1769.5) scale(1.2 1)" font-size="22" text-anchor="middle">**</text>
<text transform="translate(947.6 1863.7) scale(1.2 1)" font-size="22" text-anchor="middle">**</text>
<text transform="translate(206.7 1907.5) scale(1.18 1) rotate(-90)" font-size="23" text-anchor="end">OE.NC</text>
<text transform="translate(249.2 1907.5) scale(1.18 1) rotate(-90)" font-size="23" text-anchor="end">OE.USP7</text>
<text transform="translate(291.7 1907.5) scale(1.18 1) rotate(-90)" font-size="23" text-anchor="end">si.NC</text>
<text transform="translate(334.4 1907.5) scale(1.18 1) rotate(-90)" font-size="23" text-anchor="end">si.USP7</text>
<text transform="translate(433.1 1907.5) scale(1.18 1) rotate(-90)" font-size="23" text-anchor="end">OE.NC</text>
<text transform="translate(475.8 1907.5) scale(1.18 1) rotate(-90)" font-size="23" text-anchor="end">OE.USP7</text>
<text transform="translate(518.5 1907.5) scale(1.18 1) rotate(-90)" font-size="23" text-anchor="end">si.NC</text>
<text transform="translate(561.0 1907.5) scale(1.18 1) rotate(-90)" font-size="23" text-anchor="end">si.USP7</text>
<text x="647.8" y="1881.0" font-size="21" text-anchor="end" transform="rotate(-90 647.8 1881.0)">OE.NC</text>
<text x="682.4" y="1881.0" font-size="21" text-anchor="end" transform="rotate(-90 682.4 1881.0)">OE.hnRNPA1</text>
<text x="716.7" y="1881.0" font-size="21" text-anchor="end" transform="rotate(-90 716.7 1881.0)">si.NC</text>
<text x="750.9" y="1881.0" font-size="21" text-anchor="end" transform="rotate(-90 750.9 1881.0)">si.hnRNPA1</text>
<text x="847.9" y="1885.0" font-size="21" text-anchor="end" transform="rotate(-90 847.9 1885.0)">OE.NC</text>
<text x="883.4" y="1885.0" font-size="21" text-anchor="end" transform="rotate(-90 883.4 1885.0)">OE.hnRNPA1</text>
<text x="919.1" y="1885.0" font-size="21" text-anchor="end" transform="rotate(-90 919.1 1885.0)">si.NC</text>
<text x="954.6" y="1885.0" font-size="21" text-anchor="end" transform="rotate(-90 954.6 1885.0)">si.hnRNPA1</text>
<text x="76.9" y="1838.3" font-size="28" text-anchor="middle" transform="rotate(-90 76.9 1838.3)">Relative abundance</text>
<text x="107.0" y="1825.6" font-size="28" text-anchor="middle" transform="rotate(-90 107.0 1825.6)">of proteins</text>
<text x="1080.4" y="1360.5" font-size="85">G</text>
<text x="1079.6" y="1709.1" font-size="85">H</text>
<text x="1212.4" y="1352.8" font-size="27.3">SGC7901</text>
<rect x="1244.3" y="1444.1" width="31.7" height="158.7" fill="#fff" stroke="#000" stroke-width="1.3"/>
<rect x="1276.0" y="1401.3" width="31.9" height="201.5" fill="#E5B8B8" stroke="#000" stroke-width="1.3"/>
<rect x="1307.9" y="1423.5" width="31.8" height="179.3" fill="#A35151" stroke="#000" stroke-width="1.3"/>
<rect x="1386.5" y="1444.1" width="31.9" height="158.7" fill="#fff" stroke="#000" stroke-width="1.3"/>
<rect x="1418.4" y="1433.0" width="31.9" height="169.8" fill="#E5B8B8" stroke="#000" stroke-width="1.3"/>
<rect x="1450.3" y="1452.8" width="31.9" height="150.0" fill="#A35151" stroke="#000" stroke-width="1.3"/>
<line x1="1260.2" y1="1437.0" x2="1260.2" y2="1451.2" stroke="#000" stroke-width="1.3"/>
<line x1="1256.7" y1="1437.0" x2="1263.7" y2="1437.0" stroke="#000" stroke-width="1.3"/>
<line x1="1256.7" y1="1451.2" x2="1263.7" y2="1451.2" stroke="#000" stroke-width="1.3"/>
<line x1="1292.0" y1="1394.1" x2="1292.0" y2="1408.4" stroke="#000" stroke-width="1.3"/>
<line x1="1288.5" y1="1394.1" x2="1295.5" y2="1394.1" stroke="#000" stroke-width="1.3"/>
<line x1="1288.5" y1="1408.4" x2="1295.5" y2="1408.4" stroke="#000" stroke-width="1.3"/>
<line x1="1323.8" y1="1413.2" x2="1323.8" y2="1433.8" stroke="#000" stroke-width="1.3"/>
<line x1="1320.3" y1="1413.2" x2="1327.3" y2="1413.2" stroke="#000" stroke-width="1.3"/>
<line x1="1320.3" y1="1433.8" x2="1327.3" y2="1433.8" stroke="#000" stroke-width="1.3"/>
<line x1="1402.5" y1="1434.9" x2="1402.5" y2="1453.3" stroke="#000" stroke-width="1.3"/>
<line x1="1399.0" y1="1434.9" x2="1406.0" y2="1434.9" stroke="#000" stroke-width="1.3"/>
<line x1="1399.0" y1="1453.3" x2="1406.0" y2="1453.3" stroke="#000" stroke-width="1.3"/>
<line x1="1434.3" y1="1425.1" x2="1434.3" y2="1440.9" stroke="#000" stroke-width="1.3"/>
<line x1="1430.8" y1="1425.1" x2="1437.8" y2="1425.1" stroke="#000" stroke-width="1.3"/>
<line x1="1430.8" y1="1440.9" x2="1437.8" y2="1440.9" stroke="#000" stroke-width="1.3"/>
<line x1="1466.2" y1="1446.0" x2="1466.2" y2="1459.7" stroke="#000" stroke-width="1.3"/>
<line x1="1462.8" y1="1446.0" x2="1469.8" y2="1446.0" stroke="#000" stroke-width="1.3"/>
<line x1="1462.8" y1="1459.7" x2="1469.8" y2="1459.7" stroke="#000" stroke-width="1.3"/>
<line x1="1221.2" y1="1364.8" x2="1221.2" y2="1611.8" stroke="#000" stroke-width="1.4"/>
<line x1="1212.2" y1="1602.8" x2="1221.2" y2="1602.8" stroke="#000" stroke-width="1.4"/>
<text transform="translate(1197.5 1610.7) scale(1.03 1)" font-size="22.5" text-anchor="end">0</text>
<line x1="1212.2" y1="1523.5" x2="1221.2" y2="1523.5" stroke="#000" stroke-width="1.4"/>
<text transform="translate(1197.5 1531.3) scale(1.03 1)" font-size="22.5" text-anchor="end">0.5</text>
<line x1="1212.2" y1="1444.1" x2="1221.2" y2="1444.1" stroke="#000" stroke-width="1.4"/>
<text transform="translate(1197.5 1452.0) scale(1.03 1)" font-size="22.5" text-anchor="end">1</text>
<line x1="1212.2" y1="1364.8" x2="1221.2" y2="1364.8" stroke="#000" stroke-width="1.4"/>
<text transform="translate(1197.5 1372.6) scale(1.03 1)" font-size="22.5" text-anchor="end">1.5</text>
<line x1="1221.2" y1="1602.8" x2="1506.0" y2="1602.8" stroke="#000" stroke-width="1.4"/>
<line x1="1363.5" y1="1602.8" x2="1363.5" y2="1611.8" stroke="#000" stroke-width="1.4"/>
<line x1="1506.0" y1="1602.8" x2="1506.0" y2="1611.8" stroke="#000" stroke-width="1.4"/>
<rect x="1508.5" y="1388.3" width="14.0" height="14.0" fill="#fff" stroke="#000" stroke-width="1.3"/>
<text x="1528.2" y="1403.3" font-size="23">NC</text>
<rect x="1508.5" y="1421.0" width="14.0" height="14.0" fill="#E5B8B8" stroke="#000" stroke-width="1.3"/>
<text x="1528.2" y="1436.0" font-size="23">USP7</text>
<rect x="1508.5" y="1455.7" width="14.0" height="14.0" fill="#A35151" stroke="#000" stroke-width="1.3"/>
<text x="1528.2" y="1470.7" font-size="23">hnRNPA1</text>
<text x="1292.0" y="1646.5" font-size="23.5" text-anchor="middle">OE</text>
<text x="1434.4" y="1646.5" font-size="23.5" text-anchor="middle">si</text>
<text x="1127.2" y="1496.0" font-size="24.4" text-anchor="middle" transform="rotate(-90 1127.2 1496.0)">Relative levels</text>
<text x="1153.1" y="1497.3" font-size="24.4" text-anchor="middle" transform="rotate(-90 1153.1 1497.3)">of lncFERO</text>
<text x="1219.3" y="1723.3" font-size="28">SGC exos</text>
<rect x="1235.9" y="1936.0" width="32.6" height="36.4" fill="#fff" stroke="#000" stroke-width="1.3"/>
<rect x="1268.5" y="1822.4" width="33.0" height="150.0" fill="#E5B8B8" stroke="#000" stroke-width="1.3"/>
<rect x="1301.5" y="1835.5" width="32.9" height="136.9" fill="#A35151" stroke="#000" stroke-width="1.3"/>
<rect x="1385.5" y="1936.0" width="32.9" height="36.4" fill="#fff" stroke="#000" stroke-width="1.3"/>
<rect x="1418.4" y="1957.8" width="33.0" height="14.6" fill="#E5B8B8" stroke="#000" stroke-width="1.3"/>
<rect x="1451.4" y="1960.4" width="33.3" height="12.0" fill="#A35151" stroke="#000" stroke-width="1.3"/>
<line x1="1252.2" y1="1934.5" x2="1252.2" y2="1937.5" stroke="#000" stroke-width="1.3"/>
<line x1="1248.7" y1="1934.5" x2="1255.7" y2="1934.5" stroke="#000" stroke-width="1.3"/>
<line x1="1248.7" y1="1937.5" x2="1255.7" y2="1937.5" stroke="#000" stroke-width="1.3"/>
<line x1="1285.0" y1="1820.6" x2="1285.0" y2="1824.3" stroke="#000" stroke-width="1.3"/>
<line x1="1281.5" y1="1820.6" x2="1288.5" y2="1820.6" stroke="#000" stroke-width="1.3"/>
<line x1="1281.5" y1="1824.3" x2="1288.5" y2="1824.3" stroke="#000" stroke-width="1.3"/>
<line x1="1318.0" y1="1832.6" x2="1318.0" y2="1838.4" stroke="#000" stroke-width="1.3"/>
<line x1="1314.5" y1="1832.6" x2="1321.5" y2="1832.6" stroke="#000" stroke-width="1.3"/>
<line x1="1314.5" y1="1838.4" x2="1321.5" y2="1838.4" stroke="#000" stroke-width="1.3"/>
<line x1="1402.0" y1="1933.8" x2="1402.0" y2="1938.2" stroke="#000" stroke-width="1.3"/>
<line x1="1398.5" y1="1933.8" x2="1405.5" y2="1933.8" stroke="#000" stroke-width="1.3"/>
<line x1="1398.5" y1="1938.2" x2="1405.5" y2="1938.2" stroke="#000" stroke-width="1.3"/>
<line x1="1434.9" y1="1956.0" x2="1434.9" y2="1959.7" stroke="#000" stroke-width="1.3"/>
<line x1="1431.4" y1="1956.0" x2="1438.4" y2="1956.0" stroke="#000" stroke-width="1.3"/>
<line x1="1431.4" y1="1959.7" x2="1438.4" y2="1959.7" stroke="#000" stroke-width="1.3"/>
<line x1="1468.1" y1="1958.9" x2="1468.1" y2="1961.8" stroke="#000" stroke-width="1.3"/>
<line x1="1464.6" y1="1958.9" x2="1471.6" y2="1958.9" stroke="#000" stroke-width="1.3"/>
<line x1="1464.6" y1="1961.8" x2="1471.6" y2="1961.8" stroke="#000" stroke-width="1.3"/>
<line x1="1210.8" y1="1754.0" x2="1210.8" y2="1980.9" stroke="#000" stroke-width="1.4"/>
<line x1="1202.3" y1="1972.4" x2="1210.8" y2="1972.4" stroke="#000" stroke-width="1.4"/>
<text transform="translate(1188.0 1979.9) scale(1.13 1)" font-size="21.5" text-anchor="end">0</text>
<line x1="1202.3" y1="1899.6" x2="1210.8" y2="1899.6" stroke="#000" stroke-width="1.4"/>
<text transform="translate(1188.0 1907.1) scale(1.13 1)" font-size="21.5" text-anchor="end">2</text>
<line x1="1202.3" y1="1826.8" x2="1210.8" y2="1826.8" stroke="#000" stroke-width="1.4"/>
<text transform="translate(1188.0 1834.3) scale(1.13 1)" font-size="21.5" text-anchor="end">4</text>
<line x1="1202.3" y1="1754.0" x2="1210.8" y2="1754.0" stroke="#000" stroke-width="1.4"/>
<text transform="translate(1188.0 1761.5) scale(1.13 1)" font-size="21.5" text-anchor="end">6</text>
<line x1="1210.8" y1="1972.4" x2="1509.5" y2="1972.4" stroke="#000" stroke-width="1.4"/>
<line x1="1360.0" y1="1972.4" x2="1360.0" y2="1980.9" stroke="#000" stroke-width="1.4"/>
<line x1="1509.5" y1="1972.4" x2="1509.5" y2="1980.9" stroke="#000" stroke-width="1.4"/>
<text transform="translate(1253.0 1932.7) scale(1.15 1)" font-size="22" text-anchor="middle">**</text>
<text transform="translate(1400.7 1932.7) scale(1.15 1)" font-size="22" text-anchor="middle">**</text>
<rect x="1512.0" y="1775.7" width="13.5" height="13.5" fill="#fff" stroke="#000" stroke-width="1.3"/>
<text x="1530.0" y="1790.2" font-size="23">NC</text>
<rect x="1512.0" y="1806.7" width="13.5" height="13.5" fill="#E5B8B8" stroke="#000" stroke-width="1.3"/>
<text x="1530.0" y="1821.2" font-size="23">USP7</text>
<rect x="1512.0" y="1837.7" width="13.5" height="13.5" fill="#A35151" stroke="#000" stroke-width="1.3"/>
<text x="1530.0" y="1852.2" font-size="23">hnRNPA1</text>
<text x="1285.5" y="2012.3" font-size="23.5" text-anchor="middle">OE</text>
<text x="1434.4" y="2012.3" font-size="23.5" text-anchor="middle">si</text>
<text x="1129.4" y="1855.6" font-size="24.4" text-anchor="middle" transform="rotate(-90 1129.4 1855.6)">Relative levels</text>
<text x="1155.3" y="1856.2" font-size="24.4" text-anchor="middle" transform="rotate(-90 1155.3 1856.2)">of lncFERO</text>
<text x="14.1" y="2072.9" font-size="85">I</text>
<text x="507.3" y="2073.5" font-size="85">J</text>
<text x="961.0" y="2074.2" font-size="85">K</text>
<rect x="181.8" y="2116.9" width="33.5" height="219.7" fill="#DAE0EA" stroke="#222" stroke-width="1.4"/>
<rect x="264.9" y="2196.4" width="32.7" height="140.2" fill="#DAE0EA" stroke="#222" stroke-width="1.4"/>
<rect x="346.8" y="2233.7" width="32.8" height="102.9" fill="#DAE0EA" stroke="#222" stroke-width="1.4"/>
<rect x="429.0" y="2225.9" width="33.5" height="110.7" fill="#DAE0EA" stroke="#222" stroke-width="1.4"/>
<line x1="198.6" y1="2109.9" x2="198.6" y2="2123.9" stroke="#222" stroke-width="1.3"/>
<line x1="195.1" y1="2109.9" x2="202.1" y2="2109.9" stroke="#222" stroke-width="1.3"/>
<line x1="195.1" y1="2123.9" x2="202.1" y2="2123.9" stroke="#222" stroke-width="1.3"/>
<line x1="281.2" y1="2191.6" x2="281.2" y2="2201.2" stroke="#222" stroke-width="1.3"/>
<line x1="277.8" y1="2191.6" x2="284.8" y2="2191.6" stroke="#222" stroke-width="1.3"/>
<line x1="277.8" y1="2201.2" x2="284.8" y2="2201.2" stroke="#222" stroke-width="1.3"/>
<line x1="363.2" y1="2228.4" x2="363.2" y2="2239.1" stroke="#222" stroke-width="1.3"/>
<line x1="359.7" y1="2228.4" x2="366.7" y2="2228.4" stroke="#222" stroke-width="1.3"/>
<line x1="359.7" y1="2239.1" x2="366.7" y2="2239.1" stroke="#222" stroke-width="1.3"/>
<line x1="445.8" y1="2222.4" x2="445.8" y2="2229.4" stroke="#222" stroke-width="1.3"/>
<line x1="442.2" y1="2222.4" x2="449.2" y2="2222.4" stroke="#222" stroke-width="1.3"/>
<line x1="442.2" y1="2229.4" x2="449.2" y2="2229.4" stroke="#222" stroke-width="1.3"/>
<line x1="156.8" y1="2068.0" x2="156.8" y2="2336.6" stroke="#000" stroke-width="2"/>
<line x1="149.3" y1="2336.6" x2="156.8" y2="2336.6" stroke="#000" stroke-width="2"/>
<text x="133.0" y="2345.0" font-size="24" text-anchor="end">0</text>
<line x1="149.3" y1="2282.9" x2="156.8" y2="2282.9" stroke="#000" stroke-width="2"/>
<text x="133.0" y="2291.3" font-size="24" text-anchor="end">20</text>
<line x1="149.3" y1="2229.2" x2="156.8" y2="2229.2" stroke="#000" stroke-width="2"/>
<text x="133.0" y="2237.6" font-size="24" text-anchor="end">40</text>
<line x1="149.3" y1="2175.4" x2="156.8" y2="2175.4" stroke="#000" stroke-width="2"/>
<text x="133.0" y="2183.8" font-size="24" text-anchor="end">60</text>
<line x1="149.3" y1="2121.7" x2="156.8" y2="2121.7" stroke="#000" stroke-width="2"/>
<text x="133.0" y="2130.1" font-size="24" text-anchor="end">80</text>
<line x1="149.3" y1="2068.0" x2="156.8" y2="2068.0" stroke="#000" stroke-width="2"/>
<text x="133.0" y="2076.4" font-size="24" text-anchor="end">100</text>
<line x1="149.3" y1="2336.6" x2="487.9" y2="2336.6" stroke="#000" stroke-width="2"/>
<line x1="157.4" y1="2336.6" x2="157.4" y2="2344.1" stroke="#000" stroke-width="2"/>
<line x1="239.9" y1="2336.6" x2="239.9" y2="2344.1" stroke="#000" stroke-width="2"/>
<line x1="322.3" y1="2336.6" x2="322.3" y2="2344.1" stroke="#000" stroke-width="2"/>
<line x1="404.8" y1="2336.6" x2="404.8" y2="2344.1" stroke="#000" stroke-width="2"/>
<line x1="486.9" y1="2336.6" x2="486.9" y2="2344.1" stroke="#000" stroke-width="2"/>
<line x1="200.0" y1="2092.0" x2="281.6" y2="2092.0" stroke="#000" stroke-width="2"/>
<text transform="translate(239.5 2086.7) scale(1.15 1)" font-size="22" text-anchor="middle">**</text>
<path d="M282.6,2180.6 L282.6,2144.8 L404,2144.8 L404,2214.7" stroke="#000" stroke-width="2" fill="none"/>
<line x1="363.8" y1="2214.7" x2="445.8" y2="2214.7" stroke="#000" stroke-width="2"/>
<text transform="translate(339.4 2139.2) scale(1.15 1)" font-size="22" text-anchor="middle">*</text>
<text x="81.5" y="2224.6" font-size="28" text-anchor="middle" transform="rotate(-90 81.5 2224.6)">Cell death (%)</text>
<text x="203.0" y="2365.0" font-size="23.5" text-anchor="end" transform="rotate(-45 203.0 2365.0)">Erastin</text>
<text x="283.0" y="2361.5" font-size="23.5" text-anchor="end" transform="rotate(-45 283.0 2361.5)">SGC exos</text>
<text x="351.5" y="2365.5" font-size="23.5" text-anchor="end" transform="rotate(-45 351.5 2365.5)">OE.USP7</text>
<text x="387.5" y="2363.4" font-size="23.5" text-anchor="end" transform="rotate(-45 387.5 2363.4)">SGC exos</text>
<text x="449.0" y="2366.5" font-size="23.5" text-anchor="end" transform="rotate(-45 449.0 2366.5)">OE.hnRNPA1</text>
<text x="485.0" y="2363.4" font-size="23.5" text-anchor="end" transform="rotate(-45 485.0 2363.4)">SGC exos</text>
<line x1="193.8" y1="2469.7" x2="406.0" y2="2469.7" stroke="#000" stroke-width="2.5"/>
<text x="301.1" y="2494.0" font-size="21" text-anchor="middle">Erastin</text>
<rect x="656.6" y="2120.1" width="32.4" height="215.3" fill="#D0A2A3" stroke="#222" stroke-width="1.4"/>
<rect x="741.8" y="2211.9" width="33.8" height="123.5" fill="#D0A2A3" stroke="#222" stroke-width="1.4"/>
<rect x="827.0" y="2243.6" width="33.8" height="91.8" fill="#D0A2A3" stroke="#222" stroke-width="1.4"/>
<rect x="912.2" y="2236.6" width="33.8" height="98.8" fill="#D0A2A3" stroke="#222" stroke-width="1.4"/>
<line x1="672.8" y1="2108.8" x2="672.8" y2="2131.3" stroke="#222" stroke-width="1.3"/>
<line x1="669.3" y1="2108.8" x2="676.3" y2="2108.8" stroke="#222" stroke-width="1.3"/>
<line x1="669.3" y1="2131.3" x2="676.3" y2="2131.3" stroke="#222" stroke-width="1.3"/>
<line x1="758.7" y1="2203.3" x2="758.7" y2="2220.5" stroke="#222" stroke-width="1.3"/>
<line x1="755.2" y1="2203.3" x2="762.2" y2="2203.3" stroke="#222" stroke-width="1.3"/>
<line x1="755.2" y1="2220.5" x2="762.2" y2="2220.5" stroke="#222" stroke-width="1.3"/>
<line x1="843.9" y1="2237.7" x2="843.9" y2="2249.5" stroke="#222" stroke-width="1.3"/>
<line x1="840.4" y1="2237.7" x2="847.4" y2="2237.7" stroke="#222" stroke-width="1.3"/>
<line x1="840.4" y1="2249.5" x2="847.4" y2="2249.5" stroke="#222" stroke-width="1.3"/>
<line x1="929.1" y1="2229.6" x2="929.1" y2="2243.6" stroke="#222" stroke-width="1.3"/>
<line x1="925.6" y1="2229.6" x2="932.6" y2="2229.6" stroke="#222" stroke-width="1.3"/>
<line x1="925.6" y1="2243.6" x2="932.6" y2="2243.6" stroke="#222" stroke-width="1.3"/>
<line x1="630.2" y1="2066.9" x2="630.2" y2="2335.4" stroke="#000" stroke-width="2"/>
<line x1="622.7" y1="2335.4" x2="630.2" y2="2335.4" stroke="#000" stroke-width="2"/>
<text x="606.5" y="2343.8" font-size="24" text-anchor="end">0</text>
<line x1="622.7" y1="2281.7" x2="630.2" y2="2281.7" stroke="#000" stroke-width="2"/>
<text x="606.5" y="2290.1" font-size="24" text-anchor="end">10</text>
<line x1="622.7" y1="2228.0" x2="630.2" y2="2228.0" stroke="#000" stroke-width="2"/>
<text x="606.5" y="2236.4" font-size="24" text-anchor="end">20</text>
<line x1="622.7" y1="2174.3" x2="630.2" y2="2174.3" stroke="#000" stroke-width="2"/>
<text x="606.5" y="2182.7" font-size="24" text-anchor="end">30</text>
<line x1="622.7" y1="2120.6" x2="630.2" y2="2120.6" stroke="#000" stroke-width="2"/>
<text x="606.5" y="2129.0" font-size="24" text-anchor="end">40</text>
<line x1="622.7" y1="2066.9" x2="630.2" y2="2066.9" stroke="#000" stroke-width="2"/>
<text x="606.5" y="2075.3" font-size="24" text-anchor="end">50</text>
<line x1="622.7" y1="2335.4" x2="972.2" y2="2335.4" stroke="#000" stroke-width="2"/>
<line x1="630.2" y1="2335.4" x2="630.2" y2="2342.9" stroke="#000" stroke-width="2"/>
<line x1="715.4" y1="2335.4" x2="715.4" y2="2342.9" stroke="#000" stroke-width="2"/>
<line x1="800.4" y1="2335.4" x2="800.4" y2="2342.9" stroke="#000" stroke-width="2"/>
<line x1="886.0" y1="2335.4" x2="886.0" y2="2342.9" stroke="#000" stroke-width="2"/>
<line x1="971.2" y1="2335.4" x2="971.2" y2="2342.9" stroke="#000" stroke-width="2"/>
<line x1="678.5" y1="2086.8" x2="760.5" y2="2086.8" stroke="#000" stroke-width="2"/>
<text transform="translate(717.0 2079.7) scale(1.15 1)" font-size="22" text-anchor="middle">**</text>
<path d="M761,2175.2 L761,2139.9 L882.6,2139.9 L882.6,2210.6" stroke="#000" stroke-width="2" fill="none"/>
<line x1="842.4" y1="2210.6" x2="925.0" y2="2210.6" stroke="#000" stroke-width="2"/>
<text transform="translate(816.7 2132.2) scale(1.15 1)" font-size="22" text-anchor="middle">*</text>
<text x="562.5" y="2224.3" font-size="28" text-anchor="middle" transform="rotate(-90 562.5 2224.3)">Levels of lipid-ROS (%)</text>
<text x="687.0" y="2363.0" font-size="23.5" text-anchor="end" transform="rotate(-45 687.0 2363.0)">Erastin</text>
<text x="763.5" y="2363.0" font-size="23.5" text-anchor="end" transform="rotate(-45 763.5 2363.0)">SGC exos</text>
<text x="833.5" y="2368.0" font-size="23.5" text-anchor="end" transform="rotate(-45 833.5 2368.0)">OE.USP7</text>
<text x="872.0" y="2363.5" font-size="23.5" text-anchor="end" transform="rotate(-45 872.0 2363.5)">SGC exos</text>
<text x="932.0" y="2366.0" font-size="23.5" text-anchor="end" transform="rotate(-45 932.0 2366.0)">OE.hnRNPA1</text>
<text x="968.0" y="2364.5" font-size="23.5" text-anchor="end" transform="rotate(-45 968.0 2364.5)">SGC exos</text>
<line x1="674.7" y1="2469.7" x2="887.2" y2="2469.7" stroke="#000" stroke-width="2.5"/>
<text x="789.7" y="2494.0" font-size="21" text-anchor="middle">Erastin</text>
<line x1="1055.2" y1="2062.7" x2="1055.2" y2="2377.3" stroke="#222" stroke-width="1.5"/>
<line x1="1048.4" y1="2370.3" x2="1055.2" y2="2370.3" stroke="#222" stroke-width="1.5"/>
<text x="1034.8" y="2377.3" font-size="20" text-anchor="end">0</text>
<line x1="1048.4" y1="2308.8" x2="1055.2" y2="2308.8" stroke="#222" stroke-width="1.5"/>
<text x="1034.8" y="2315.8" font-size="20" text-anchor="end">1</text>
<line x1="1048.4" y1="2247.3" x2="1055.2" y2="2247.3" stroke="#222" stroke-width="1.5"/>
<text x="1034.8" y="2254.3" font-size="20" text-anchor="end">2</text>
<line x1="1048.4" y1="2185.7" x2="1055.2" y2="2185.7" stroke="#222" stroke-width="1.5"/>
<text x="1034.8" y="2192.7" font-size="20" text-anchor="end">3</text>
<line x1="1048.4" y1="2124.2" x2="1055.2" y2="2124.2" stroke="#222" stroke-width="1.5"/>
<text x="1034.8" y="2131.2" font-size="20" text-anchor="end">4</text>
<line x1="1048.4" y1="2062.7" x2="1055.2" y2="2062.7" stroke="#222" stroke-width="1.5"/>
<text x="1034.8" y="2069.7" font-size="20" text-anchor="end">5</text>
<line x1="1048.4" y1="2370.3" x2="1479.8" y2="2370.3" stroke="#222" stroke-width="1.5"/>
<line x1="1055.2" y1="2370.3" x2="1055.2" y2="2377.3" stroke="#222" stroke-width="1.5"/>
<text x="1055.2" y="2407.5" font-size="21" text-anchor="middle">0</text>
<line x1="1140.0" y1="2370.3" x2="1140.0" y2="2377.3" stroke="#222" stroke-width="1.5"/>
<text x="1140.0" y="2407.5" font-size="21" text-anchor="middle">2</text>
<line x1="1224.7" y1="2370.3" x2="1224.7" y2="2377.3" stroke="#222" stroke-width="1.5"/>
<text x="1224.7" y="2407.5" font-size="21" text-anchor="middle">4</text>
<line x1="1309.5" y1="2370.3" x2="1309.5" y2="2377.3" stroke="#222" stroke-width="1.5"/>
<text x="1309.5" y="2407.5" font-size="21" text-anchor="middle">6</text>
<line x1="1394.2" y1="2370.3" x2="1394.2" y2="2377.3" stroke="#222" stroke-width="1.5"/>
<text x="1394.2" y="2407.5" font-size="21" text-anchor="middle">8</text>
<line x1="1479.0" y1="2370.3" x2="1479.0" y2="2377.3" stroke="#222" stroke-width="1.5"/>
<text x="1479.0" y="2407.5" font-size="21" text-anchor="middle">10</text>
<text x="1496.0" y="2405.0" font-size="23">(h)</text>
<text x="1008.8" y="2214.8" font-size="28" text-anchor="middle" transform="rotate(-90 1008.8 2214.8)">Relative MMP</text>
<line x1="1055.2" y1="2306.9" x2="1055.2" y2="2310.6" stroke="#C0232A" stroke-width="1.3"/>
<line x1="1052.2" y1="2306.9" x2="1058.2" y2="2306.9" stroke="#C0232A" stroke-width="1.3"/>
<line x1="1052.2" y1="2310.6" x2="1058.2" y2="2310.6" stroke="#C0232A" stroke-width="1.3"/>
<line x1="1097.6" y1="2271.3" x2="1097.6" y2="2281.1" stroke="#C0232A" stroke-width="1.3"/>
<line x1="1094.6" y1="2271.3" x2="1100.6" y2="2271.3" stroke="#C0232A" stroke-width="1.3"/>
<line x1="1094.6" y1="2281.1" x2="1100.6" y2="2281.1" stroke="#C0232A" stroke-width="1.3"/>
<line x1="1140.0" y1="2239.3" x2="1140.0" y2="2255.3" stroke="#C0232A" stroke-width="1.3"/>
<line x1="1137.0" y1="2239.3" x2="1143.0" y2="2239.3" stroke="#C0232A" stroke-width="1.3"/>
<line x1="1137.0" y1="2255.3" x2="1143.0" y2="2255.3" stroke="#C0232A" stroke-width="1.3"/>
<line x1="1182.3" y1="2206.0" x2="1182.3" y2="2228.2" stroke="#C0232A" stroke-width="1.3"/>
<line x1="1179.3" y1="2206.0" x2="1185.3" y2="2206.0" stroke="#C0232A" stroke-width="1.3"/>
<line x1="1179.3" y1="2228.2" x2="1185.3" y2="2228.2" stroke="#C0232A" stroke-width="1.3"/>
<line x1="1224.7" y1="2144.5" x2="1224.7" y2="2163.0" stroke="#C0232A" stroke-width="1.3"/>
<line x1="1221.7" y1="2144.5" x2="1227.7" y2="2144.5" stroke="#C0232A" stroke-width="1.3"/>
<line x1="1221.7" y1="2163.0" x2="1227.7" y2="2163.0" stroke="#C0232A" stroke-width="1.3"/>
<line x1="1267.1" y1="2108.8" x2="1267.1" y2="2135.9" stroke="#C0232A" stroke-width="1.3"/>
<line x1="1264.1" y1="2108.8" x2="1270.1" y2="2108.8" stroke="#C0232A" stroke-width="1.3"/>
<line x1="1264.1" y1="2135.9" x2="1270.1" y2="2135.9" stroke="#C0232A" stroke-width="1.3"/>
<line x1="1309.5" y1="2095.9" x2="1309.5" y2="2120.5" stroke="#C0232A" stroke-width="1.3"/>
<line x1="1306.5" y1="2095.9" x2="1312.5" y2="2095.9" stroke="#C0232A" stroke-width="1.3"/>
<line x1="1306.5" y1="2120.5" x2="1312.5" y2="2120.5" stroke="#C0232A" stroke-width="1.3"/>
<line x1="1351.9" y1="2133.4" x2="1351.9" y2="2160.5" stroke="#C0232A" stroke-width="1.3"/>
<line x1="1348.9" y1="2133.4" x2="1354.9" y2="2133.4" stroke="#C0232A" stroke-width="1.3"/>
<line x1="1348.9" y1="2160.5" x2="1354.9" y2="2160.5" stroke="#C0232A" stroke-width="1.3"/>
<line x1="1394.2" y1="2171.6" x2="1394.2" y2="2195.0" stroke="#C0232A" stroke-width="1.3"/>
<line x1="1391.2" y1="2171.6" x2="1397.2" y2="2171.6" stroke="#C0232A" stroke-width="1.3"/>
<line x1="1391.2" y1="2195.0" x2="1397.2" y2="2195.0" stroke="#C0232A" stroke-width="1.3"/>
<line x1="1055.2" y1="2306.9" x2="1055.2" y2="2310.6" stroke="#3A66A8" stroke-width="1.3"/>
<line x1="1052.2" y1="2306.9" x2="1058.2" y2="2306.9" stroke="#3A66A8" stroke-width="1.3"/>
<line x1="1052.2" y1="2310.6" x2="1058.2" y2="2310.6" stroke="#3A66A8" stroke-width="1.3"/>
<line x1="1097.6" y1="2292.2" x2="1097.6" y2="2298.3" stroke="#3A66A8" stroke-width="1.3"/>
<line x1="1094.6" y1="2292.2" x2="1100.6" y2="2292.2" stroke="#3A66A8" stroke-width="1.3"/>
<line x1="1094.6" y1="2298.3" x2="1100.6" y2="2298.3" stroke="#3A66A8" stroke-width="1.3"/>
<line x1="1140.0" y1="2281.1" x2="1140.0" y2="2289.7" stroke="#3A66A8" stroke-width="1.3"/>
<line x1="1137.0" y1="2281.1" x2="1143.0" y2="2281.1" stroke="#3A66A8" stroke-width="1.3"/>
<line x1="1137.0" y1="2289.7" x2="1143.0" y2="2289.7" stroke="#3A66A8" stroke-width="1.3"/>
<line x1="1182.3" y1="2270.6" x2="1182.3" y2="2282.9" stroke="#3A66A8" stroke-width="1.3"/>
<line x1="1179.3" y1="2270.6" x2="1185.3" y2="2270.6" stroke="#3A66A8" stroke-width="1.3"/>
<line x1="1179.3" y1="2282.9" x2="1185.3" y2="2282.9" stroke="#3A66A8" stroke-width="1.3"/>
<line x1="1224.7" y1="2249.7" x2="1224.7" y2="2268.2" stroke="#3A66A8" stroke-width="1.3"/>
<line x1="1221.7" y1="2249.7" x2="1227.7" y2="2249.7" stroke="#3A66A8" stroke-width="1.3"/>
<line x1="1221.7" y1="2268.2" x2="1227.7" y2="2268.2" stroke="#3A66A8" stroke-width="1.3"/>
<line x1="1267.1" y1="2226.3" x2="1267.1" y2="2244.8" stroke="#3A66A8" stroke-width="1.3"/>
<line x1="1264.1" y1="2226.3" x2="1270.1" y2="2226.3" stroke="#3A66A8" stroke-width="1.3"/>
<line x1="1264.1" y1="2244.8" x2="1270.1" y2="2244.8" stroke="#3A66A8" stroke-width="1.3"/>
<line x1="1309.5" y1="2222.7" x2="1309.5" y2="2235.0" stroke="#3A66A8" stroke-width="1.3"/>
<line x1="1306.5" y1="2222.7" x2="1312.5" y2="2222.7" stroke="#3A66A8" stroke-width="1.3"/>
<line x1="1306.5" y1="2235.0" x2="1312.5" y2="2235.0" stroke="#3A66A8" stroke-width="1.3"/>
<line x1="1351.9" y1="2251.0" x2="1351.9" y2="2259.6" stroke="#3A66A8" stroke-width="1.3"/>
<line x1="1348.9" y1="2251.0" x2="1354.9" y2="2251.0" stroke="#3A66A8" stroke-width="1.3"/>
<line x1="1348.9" y1="2259.6" x2="1354.9" y2="2259.6" stroke="#3A66A8" stroke-width="1.3"/>
<line x1="1394.2" y1="2263.3" x2="1394.2" y2="2273.1" stroke="#3A66A8" stroke-width="1.3"/>
<line x1="1391.2" y1="2263.3" x2="1397.2" y2="2263.3" stroke="#3A66A8" stroke-width="1.3"/>
<line x1="1391.2" y1="2273.1" x2="1397.2" y2="2273.1" stroke="#3A66A8" stroke-width="1.3"/>
<line x1="1055.2" y1="2306.9" x2="1055.2" y2="2310.6" stroke="#92C050" stroke-width="1.3"/>
<line x1="1052.2" y1="2306.9" x2="1058.2" y2="2306.9" stroke="#92C050" stroke-width="1.3"/>
<line x1="1052.2" y1="2310.6" x2="1058.2" y2="2310.6" stroke="#92C050" stroke-width="1.3"/>
<line x1="1097.6" y1="2295.2" x2="1097.6" y2="2301.4" stroke="#92C050" stroke-width="1.3"/>
<line x1="1094.6" y1="2295.2" x2="1100.6" y2="2295.2" stroke="#92C050" stroke-width="1.3"/>
<line x1="1094.6" y1="2301.4" x2="1100.6" y2="2301.4" stroke="#92C050" stroke-width="1.3"/>
<line x1="1140.0" y1="2293.4" x2="1140.0" y2="2299.6" stroke="#92C050" stroke-width="1.3"/>
<line x1="1137.0" y1="2293.4" x2="1143.0" y2="2293.4" stroke="#92C050" stroke-width="1.3"/>
<line x1="1137.0" y1="2299.6" x2="1143.0" y2="2299.6" stroke="#92C050" stroke-width="1.3"/>
<line x1="1182.3" y1="2285.4" x2="1182.3" y2="2295.2" stroke="#92C050" stroke-width="1.3"/>
<line x1="1179.3" y1="2285.4" x2="1185.3" y2="2285.4" stroke="#92C050" stroke-width="1.3"/>
<line x1="1179.3" y1="2295.2" x2="1185.3" y2="2295.2" stroke="#92C050" stroke-width="1.3"/>
<line x1="1224.7" y1="2276.8" x2="1224.7" y2="2291.6" stroke="#92C050" stroke-width="1.3"/>
<line x1="1221.7" y1="2276.8" x2="1227.7" y2="2276.8" stroke="#92C050" stroke-width="1.3"/>
<line x1="1221.7" y1="2291.6" x2="1227.7" y2="2291.6" stroke="#92C050" stroke-width="1.3"/>
<line x1="1267.1" y1="2264.5" x2="1267.1" y2="2282.9" stroke="#92C050" stroke-width="1.3"/>
<line x1="1264.1" y1="2264.5" x2="1270.1" y2="2264.5" stroke="#92C050" stroke-width="1.3"/>
<line x1="1264.1" y1="2282.9" x2="1270.1" y2="2282.9" stroke="#92C050" stroke-width="1.3"/>
<line x1="1309.5" y1="2263.3" x2="1309.5" y2="2275.6" stroke="#92C050" stroke-width="1.3"/>
<line x1="1306.5" y1="2263.3" x2="1312.5" y2="2263.3" stroke="#92C050" stroke-width="1.3"/>
<line x1="1306.5" y1="2275.6" x2="1312.5" y2="2275.6" stroke="#92C050" stroke-width="1.3"/>
<line x1="1351.9" y1="2279.3" x2="1351.9" y2="2291.6" stroke="#92C050" stroke-width="1.3"/>
<line x1="1348.9" y1="2279.3" x2="1354.9" y2="2279.3" stroke="#92C050" stroke-width="1.3"/>
<line x1="1348.9" y1="2291.6" x2="1354.9" y2="2291.6" stroke="#92C050" stroke-width="1.3"/>
<line x1="1394.2" y1="2285.4" x2="1394.2" y2="2295.2" stroke="#92C050" stroke-width="1.3"/>
<line x1="1391.2" y1="2285.4" x2="1397.2" y2="2285.4" stroke="#92C050" stroke-width="1.3"/>
<line x1="1391.2" y1="2295.2" x2="1397.2" y2="2295.2" stroke="#92C050" stroke-width="1.3"/>
<line x1="1055.2" y1="2306.9" x2="1055.2" y2="2310.6" stroke="#8A6BB5" stroke-width="1.3"/>
<line x1="1052.2" y1="2306.9" x2="1058.2" y2="2306.9" stroke="#8A6BB5" stroke-width="1.3"/>
<line x1="1052.2" y1="2310.6" x2="1058.2" y2="2310.6" stroke="#8A6BB5" stroke-width="1.3"/>
<line x1="1097.6" y1="2294.0" x2="1097.6" y2="2300.2" stroke="#8A6BB5" stroke-width="1.3"/>
<line x1="1094.6" y1="2294.0" x2="1100.6" y2="2294.0" stroke="#8A6BB5" stroke-width="1.3"/>
<line x1="1094.6" y1="2300.2" x2="1100.6" y2="2300.2" stroke="#8A6BB5" stroke-width="1.3"/>
<line x1="1140.0" y1="2290.3" x2="1140.0" y2="2296.5" stroke="#8A6BB5" stroke-width="1.3"/>
<line x1="1137.0" y1="2290.3" x2="1143.0" y2="2290.3" stroke="#8A6BB5" stroke-width="1.3"/>
<line x1="1137.0" y1="2296.5" x2="1143.0" y2="2296.5" stroke="#8A6BB5" stroke-width="1.3"/>
<line x1="1182.3" y1="2286.6" x2="1182.3" y2="2295.2" stroke="#8A6BB5" stroke-width="1.3"/>
<line x1="1179.3" y1="2286.6" x2="1185.3" y2="2286.6" stroke="#8A6BB5" stroke-width="1.3"/>
<line x1="1179.3" y1="2295.2" x2="1185.3" y2="2295.2" stroke="#8A6BB5" stroke-width="1.3"/>
<line x1="1224.7" y1="2271.9" x2="1224.7" y2="2286.6" stroke="#8A6BB5" stroke-width="1.3"/>
<line x1="1221.7" y1="2271.9" x2="1227.7" y2="2271.9" stroke="#8A6BB5" stroke-width="1.3"/>
<line x1="1221.7" y1="2286.6" x2="1227.7" y2="2286.6" stroke="#8A6BB5" stroke-width="1.3"/>
<line x1="1267.1" y1="2258.9" x2="1267.1" y2="2273.7" stroke="#8A6BB5" stroke-width="1.3"/>
<line x1="1264.1" y1="2258.9" x2="1270.1" y2="2258.9" stroke="#8A6BB5" stroke-width="1.3"/>
<line x1="1264.1" y1="2273.7" x2="1270.1" y2="2273.7" stroke="#8A6BB5" stroke-width="1.3"/>
<line x1="1309.5" y1="2251.6" x2="1309.5" y2="2270.0" stroke="#8A6BB5" stroke-width="1.3"/>
<line x1="1306.5" y1="2251.6" x2="1312.5" y2="2251.6" stroke="#8A6BB5" stroke-width="1.3"/>
<line x1="1306.5" y1="2270.0" x2="1312.5" y2="2270.0" stroke="#8A6BB5" stroke-width="1.3"/>
<line x1="1351.9" y1="2280.5" x2="1351.9" y2="2298.9" stroke="#8A6BB5" stroke-width="1.3"/>
<line x1="1348.9" y1="2280.5" x2="1354.9" y2="2280.5" stroke="#8A6BB5" stroke-width="1.3"/>
<line x1="1348.9" y1="2298.9" x2="1354.9" y2="2298.9" stroke="#8A6BB5" stroke-width="1.3"/>
<line x1="1394.2" y1="2286.0" x2="1394.2" y2="2298.3" stroke="#8A6BB5" stroke-width="1.3"/>
<line x1="1391.2" y1="2286.0" x2="1397.2" y2="2286.0" stroke="#8A6BB5" stroke-width="1.3"/>
<line x1="1391.2" y1="2298.3" x2="1397.2" y2="2298.3" stroke="#8A6BB5" stroke-width="1.3"/>
<path d="M1055.2,2308.8 L1097.6,2276.2 L1140.0,2247.3 L1182.3,2217.1 L1224.7,2153.7 L1267.1,2122.4 L1309.5,2108.2 L1351.9,2147.0 L1394.2,2183.3" stroke="#C0232A" stroke-width="2.5" fill="none" stroke-linejoin="round"/>
<circle cx="1055.2" cy="2308.8" r="4" fill="#A0353A"/>
<circle cx="1097.6" cy="2276.2" r="4" fill="#A0353A"/>
<circle cx="1140.0" cy="2247.3" r="4" fill="#A0353A"/>
<circle cx="1182.3" cy="2217.1" r="4" fill="#A0353A"/>
<circle cx="1224.7" cy="2153.7" r="4" fill="#A0353A"/>
<circle cx="1267.1" cy="2122.4" r="4" fill="#A0353A"/>
<circle cx="1309.5" cy="2108.2" r="4" fill="#A0353A"/>
<circle cx="1351.9" cy="2147.0" r="4" fill="#A0353A"/>
<circle cx="1394.2" cy="2183.3" r="4" fill="#A0353A"/>
<path d="M1055.2,2308.8 L1097.6,2295.2 L1140.0,2285.4 L1182.3,2276.8 L1224.7,2258.9 L1267.1,2235.6 L1309.5,2228.8 L1351.9,2255.3 L1394.2,2268.2" stroke="#3A66A8" stroke-width="2.5" fill="none" stroke-linejoin="round"/>
<circle cx="1055.2" cy="2308.8" r="4" fill="#3A63A0"/>
<circle cx="1097.6" cy="2295.2" r="4" fill="#3A63A0"/>
<circle cx="1140.0" cy="2285.4" r="4" fill="#3A63A0"/>
<circle cx="1182.3" cy="2276.8" r="4" fill="#3A63A0"/>
<circle cx="1224.7" cy="2258.9" r="4" fill="#3A63A0"/>
<circle cx="1267.1" cy="2235.6" r="4" fill="#3A63A0"/>
<circle cx="1309.5" cy="2228.8" r="4" fill="#3A63A0"/>
<circle cx="1351.9" cy="2255.3" r="4" fill="#3A63A0"/>
<circle cx="1394.2" cy="2268.2" r="4" fill="#3A63A0"/>
<path d="M1055.2,2308.8 L1097.6,2298.3 L1140.0,2296.5 L1182.3,2290.3 L1224.7,2284.2 L1267.1,2273.7 L1309.5,2269.4 L1351.9,2285.4 L1394.2,2290.3" stroke="#92C050" stroke-width="2.5" fill="none" stroke-linejoin="round"/>
<circle cx="1055.2" cy="2308.8" r="4" fill="#8DBB4E"/>
<circle cx="1097.6" cy="2298.3" r="4" fill="#8DBB4E"/>
<circle cx="1140.0" cy="2296.5" r="4" fill="#8DBB4E"/>
<circle cx="1182.3" cy="2290.3" r="4" fill="#8DBB4E"/>
<circle cx="1224.7" cy="2284.2" r="4" fill="#8DBB4E"/>
<circle cx="1267.1" cy="2273.7" r="4" fill="#8DBB4E"/>
<circle cx="1309.5" cy="2269.4" r="4" fill="#8DBB4E"/>
<circle cx="1351.9" cy="2285.4" r="4" fill="#8DBB4E"/>
<circle cx="1394.2" cy="2290.3" r="4" fill="#8DBB4E"/>
<path d="M1055.2,2308.8 L1097.6,2297.1 L1140.0,2293.4 L1182.3,2290.9 L1224.7,2279.3 L1267.1,2266.3 L1309.5,2260.8 L1351.9,2289.7 L1394.2,2292.2" stroke="#8A6BB5" stroke-width="2.5" fill="none" stroke-linejoin="round"/>
<circle cx="1055.2" cy="2308.8" r="4" fill="#8866B0"/>
<circle cx="1097.6" cy="2297.1" r="4" fill="#8866B0"/>
<circle cx="1140.0" cy="2293.4" r="4" fill="#8866B0"/>
<circle cx="1182.3" cy="2290.9" r="4" fill="#8866B0"/>
<circle cx="1224.7" cy="2279.3" r="4" fill="#8866B0"/>
<circle cx="1267.1" cy="2266.3" r="4" fill="#8866B0"/>
<circle cx="1309.5" cy="2260.8" r="4" fill="#8866B0"/>
<circle cx="1351.9" cy="2289.7" r="4" fill="#8866B0"/>
<circle cx="1394.2" cy="2292.2" r="4" fill="#8866B0"/>
<line x1="1418.1" y1="2043.8" x2="1445.3" y2="2043.8" stroke="#C0232A" stroke-width="2.5"/>
<circle cx="1431.9" cy="2043.8" r="4" fill="#A0353A"/>
<text x="1447.7" y="2050.5" font-size="21">Erastin</text>
<line x1="1418.1" y1="2078.7" x2="1445.3" y2="2078.7" stroke="#3A66A8" stroke-width="2.5"/>
<circle cx="1431.9" cy="2078.7" r="4" fill="#3A63A0"/>
<text x="1447.2" y="2085.4" font-size="21">SGC exos</text>
<line x1="1418.1" y1="2114.3" x2="1445.3" y2="2114.3" stroke="#92C050" stroke-width="2.5"/>
<circle cx="1431.9" cy="2114.3" r="4" fill="#8DBB4E"/>
<text x="1445.8" y="2120.3" font-size="21">OE.USP7</text>
<text x="1447.8" y="2141.8" font-size="21">SGC exos</text>
<line x1="1418.1" y1="2160.4" x2="1445.3" y2="2160.4" stroke="#8A6BB5" stroke-width="2.5"/>
<circle cx="1431.9" cy="2160.4" r="4" fill="#8866B0"/>
<text x="1448.0" y="2168.6" font-size="21">OE.hnRNPA1</text>
<text x="1447.8" y="2189.3" font-size="21">SGC exos</text>
<line x1="1581.5" y1="2073.5" x2="1581.5" y2="2196.8" stroke="#000" stroke-width="2.5"/>
<text x="1605.7" y="2134.0" font-size="21" text-anchor="middle" transform="rotate(-90 1605.7 2134.0)">Erastin</text>
</svg>
</body></html>
